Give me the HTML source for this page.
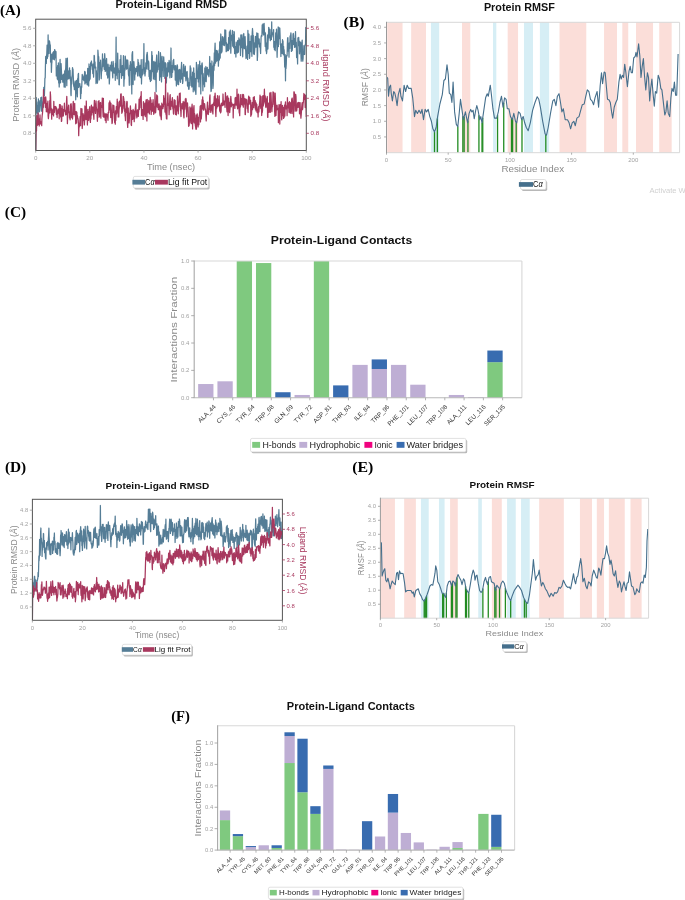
<!DOCTYPE html>
<html><head><meta charset="utf-8"><style>
html,body{margin:0;padding:0;background:#fff;width:685px;height:900px;overflow:hidden}
svg{display:block;will-change:transform;filter:blur(0.4px)}
</style></head><body>
<svg width="685" height="900" viewBox="0 0 685 900">
<rect width="685" height="900" fill="#fff"/>
<clipPath id="pac"><rect x="35.7" y="19.2" width="270.6" height="131.3"/></clipPath>
<g clip-path="url(#pac)">
<polyline points="35.7,150.8 36.0,99.1 36.2,97.6 36.5,109.3 36.8,111.9 37.1,113.2 37.3,105.7 37.6,109.0 37.9,101.9 38.1,118.4 38.4,98.9 38.7,104.8 38.9,101.9 39.2,107.0 39.5,111.6 39.8,105.9 40.0,100.6 40.3,105.3 40.6,105.4 40.8,97.6 41.1,105.4 41.4,111.0 41.7,97.1 41.9,100.8 42.2,111.5 42.5,107.0 42.7,102.4 43.0,105.0 43.3,107.6 43.5,97.8 43.8,87.3 44.1,92.0 44.4,95.8 44.6,89.0 44.9,78.2 45.2,77.9 45.4,67.5 45.7,56.4 46.0,58.8 46.3,63.5 46.5,56.7 46.8,53.5 47.1,45.1 47.3,58.5 47.6,56.5 47.9,56.4 48.1,34.9 48.4,53.2 48.7,45.5 49.0,53.5 49.2,40.8 49.5,41.1 49.8,43.1 50.0,46.1 50.3,44.8 50.6,62.1 50.9,55.2 51.1,54.0 51.4,72.3 51.7,63.7 51.9,62.7 52.2,54.1 52.5,59.0 52.7,57.5 53.0,52.4 53.3,59.2 53.6,51.7 53.8,54.6 54.1,52.0 54.4,59.8 54.6,49.7 54.9,50.0 55.2,57.9 55.5,56.7 55.7,54.2 56.0,51.5 56.3,75.9 56.5,67.9 56.8,67.8 57.1,71.4 57.3,79.0 57.6,65.7 57.9,79.8 58.2,71.5 58.4,62.9 58.7,82.9 59.0,80.3 59.2,87.0 59.5,77.6 59.8,65.1 60.1,59.4 60.3,82.8 60.6,82.5 60.9,72.8 61.1,63.7 61.4,69.7 61.7,79.3 61.9,75.1 62.2,75.7 62.5,77.5 62.8,82.2 63.0,75.6 63.3,74.1 63.6,76.0 63.8,77.4 64.1,87.0 64.4,84.3 64.7,70.9 64.9,76.3 65.2,87.2 65.5,68.9 65.7,69.1 66.0,58.3 66.3,67.9 66.5,76.5 66.8,85.7 67.1,68.3 67.4,58.1 67.6,73.6 67.9,79.1 68.2,70.8 68.4,78.8 68.7,77.8 69.0,78.4 69.3,75.0 69.5,67.9 69.8,74.5 70.1,70.4 70.3,79.9 70.6,76.9 70.9,94.3 71.1,95.6 71.4,79.2 71.7,84.1 72.0,76.5 72.2,74.7 72.5,67.7 72.8,69.8 73.0,69.2 73.3,77.0 73.6,84.8 73.9,86.6 74.1,85.4 74.4,89.7 74.7,86.8 74.9,82.9 75.2,81.0 75.5,85.3 75.7,99.8 76.0,92.0 76.3,87.8 76.6,80.4 76.8,82.2 77.1,91.7 77.4,96.8 77.6,78.6 77.9,81.0 78.2,74.4 78.5,73.3 78.7,87.5 79.0,85.6 79.3,84.1 79.5,84.1 79.8,83.6 80.1,86.3 80.3,86.8 80.6,98.6 80.9,91.6 81.2,93.5 81.4,86.7 81.7,87.5 82.0,79.9 82.2,74.4 82.5,76.5 82.8,76.5 83.1,77.0 83.3,79.7 83.6,78.3 83.9,80.7 84.1,75.2 84.4,76.5 84.7,71.3 84.9,83.9 85.2,71.8 85.5,79.7 85.8,82.8 86.0,79.8 86.3,81.7 86.6,75.0 86.8,79.8 87.1,84.5 87.4,84.9 87.7,68.3 87.9,71.3 88.2,81.1 88.5,75.1 88.7,86.1 89.0,64.0 89.3,80.8 89.5,71.3 89.8,66.8 90.1,79.1 90.4,71.2 90.6,62.8 90.9,63.5 91.2,65.7 91.4,61.0 91.7,64.7 92.0,64.9 92.3,69.5 92.5,64.8 92.8,73.6 93.1,64.0 93.3,70.4 93.6,77.1 93.9,68.7 94.1,55.4 94.4,55.8 94.7,67.8 95.0,61.9 95.2,68.0 95.5,68.1 95.8,67.0 96.0,83.6 96.3,70.6 96.6,75.4 96.9,75.1 97.1,81.1 97.4,83.2 97.7,80.4 97.9,50.2 98.2,54.6 98.5,62.4 98.7,56.7 99.0,65.2 99.3,79.9 99.6,68.7 99.8,62.7 100.1,67.0 100.4,63.6 100.6,60.2 100.9,70.4 101.2,78.6 101.5,72.1 101.7,69.3 102.0,70.8 102.3,62.0 102.5,53.8 102.8,66.6 103.1,63.0 103.4,60.3 103.6,61.3 103.9,58.8 104.2,69.3 104.4,64.1 104.7,53.7 105.0,58.4 105.2,71.4 105.5,66.6 105.8,60.3 106.1,62.7 106.3,70.8 106.6,58.5 106.9,74.9 107.1,66.6 107.4,68.5 107.7,78.1 108.0,64.2 108.2,65.2 108.5,76.9 108.8,67.3 109.0,72.1 109.3,83.9 109.6,78.5 109.8,69.7 110.1,65.0 110.4,66.8 110.7,69.3 110.9,66.5 111.2,71.0 111.5,61.9 111.7,67.2 112.0,67.3 112.3,65.6 112.6,76.4 112.8,77.8 113.1,61.3 113.4,64.3 113.6,71.5 113.9,68.2 114.2,73.2 114.4,68.5 114.7,72.6 115.0,67.7 115.3,80.3 115.5,63.1 115.8,70.8 116.1,37.1 116.3,75.2 116.6,75.0 116.9,70.9 117.2,78.8 117.4,70.2 117.7,53.2 118.0,71.1 118.2,68.3 118.5,72.4 118.8,70.6 119.0,84.7 119.3,84.8 119.6,72.6 119.9,71.4 120.1,59.7 120.4,72.4 120.7,70.6 120.9,55.4 121.2,70.2 121.5,78.3 121.8,75.0 122.0,72.5 122.3,65.6 122.6,68.4 122.8,75.3 123.1,71.0 123.4,55.7 123.6,55.9 123.9,86.2 124.2,76.1 124.5,79.1 124.7,68.3 125.0,70.3 125.3,56.2 125.5,58.9 125.8,59.5 126.1,64.9 126.4,69.2 126.6,67.2 126.9,60.2 127.2,63.6 127.4,68.7 127.7,60.0 128.0,65.0 128.2,68.4 128.5,74.9 128.8,76.1 129.1,76.5 129.3,85.3 129.6,69.6 129.9,65.2 130.1,70.3 130.4,61.7 130.7,64.3 131.0,65.1 131.2,85.0 131.5,76.4 131.8,93.9 132.0,55.2 132.3,52.5 132.6,51.7 132.8,70.2 133.1,84.6 133.4,70.3 133.7,69.1 133.9,61.7 134.2,67.0 134.5,67.4 134.7,80.1 135.0,70.6 135.3,74.1 135.6,70.1 135.8,68.3 136.1,71.6 136.4,69.0 136.6,71.0 136.9,66.6 137.2,66.5 137.4,73.7 137.7,76.0 138.0,59.5 138.3,67.9 138.5,62.3 138.8,64.6 139.1,71.9 139.3,75.9 139.6,71.3 139.9,68.2 140.2,65.4 140.4,77.6 140.7,77.6 141.0,73.8 141.2,59.6 141.5,83.9 141.8,72.3 142.0,75.9 142.3,69.5 142.6,74.6 142.9,69.8 143.1,59.5 143.4,64.5 143.7,65.3 143.9,43.6 144.2,73.7 144.5,67.6 144.8,71.3 145.0,75.9 145.3,72.3 145.6,71.5 145.8,63.0 146.1,65.2 146.4,68.9 146.6,55.9 146.9,54.5 147.2,52.4 147.5,56.3 147.7,62.6 148.0,69.2 148.3,69.6 148.5,61.0 148.8,62.9 149.1,76.4 149.4,70.3 149.6,79.1 149.9,70.7 150.2,78.5 150.4,81.5 150.7,71.6 151.0,69.9 151.2,80.5 151.5,67.6 151.8,51.6 152.1,71.7 152.3,55.3 152.6,67.3 152.9,71.1 153.1,70.1 153.4,79.0 153.7,61.9 154.0,61.3 154.2,69.8 154.5,70.6 154.8,79.6 155.0,73.7 155.3,62.2 155.6,77.4 155.8,74.7 156.1,91.7 156.4,60.4 156.7,55.0 156.9,66.8 157.2,72.0 157.5,65.8 157.7,69.1 158.0,69.8 158.3,59.5 158.6,51.5 158.8,59.9 159.1,66.7 159.4,63.3 159.6,80.3 159.9,71.7 160.2,77.0 160.4,52.7 160.7,56.6 161.0,60.8 161.3,65.7 161.5,81.9 161.8,67.9 162.1,56.4 162.3,70.2 162.6,64.3 162.9,61.4 163.2,76.4 163.4,64.1 163.7,56.9 164.0,62.9 164.2,67.1 164.5,62.7 164.8,78.3 165.0,72.3 165.3,62.7 165.6,76.1 165.9,63.6 166.1,69.4 166.4,82.9 166.7,72.9 166.9,75.8 167.2,67.9 167.5,76.1 167.8,62.6 168.0,71.3 168.3,66.3 168.6,71.6 168.8,71.9 169.1,60.4 169.4,63.9 169.6,69.5 169.9,77.8 170.2,62.7 170.5,61.8 170.7,68.9 171.0,48.0 171.3,75.0 171.5,77.4 171.8,76.9 172.1,67.4 172.4,65.3 172.6,72.3 172.9,63.4 173.2,60.3 173.4,63.9 173.7,59.3 174.0,67.7 174.2,69.8 174.5,66.3 174.8,69.5 175.1,65.6 175.3,80.1 175.6,65.9 175.9,77.4 176.1,77.7 176.4,85.9 176.7,74.2 177.0,65.5 177.2,64.8 177.5,66.2 177.8,84.1 178.0,84.4 178.3,82.5 178.6,84.7 178.8,69.8 179.1,71.7 179.4,72.6 179.7,69.4 179.9,78.6 180.2,81.1 180.5,82.3 180.7,72.8 181.0,70.2 181.3,67.2 181.6,62.4 181.8,79.1 182.1,79.2 182.4,74.2 182.6,83.5 182.9,81.7 183.2,69.5 183.4,65.9 183.7,64.5 184.0,71.5 184.3,76.3 184.5,68.5 184.8,75.8 185.1,73.9 185.3,66.2 185.6,76.2 185.9,80.8 186.2,78.0 186.4,72.2 186.7,71.9 187.0,73.0 187.2,71.5 187.5,85.9 187.8,86.2 188.0,78.2 188.3,84.3 188.6,88.7 188.9,89.4 189.1,88.3 189.4,82.3 189.7,85.7 189.9,78.1 190.2,65.8 190.5,75.2 190.8,67.9 191.0,73.5 191.3,85.4 191.6,82.8 191.8,87.0 192.1,76.7 192.4,86.5 192.6,72.2 192.9,72.7 193.2,91.8 193.5,77.2 193.7,67.9 194.0,82.3 194.3,73.1 194.5,89.9 194.8,80.7 195.1,91.2 195.4,78.5 195.6,91.8 195.9,94.4 196.2,83.0 196.4,62.3 196.7,76.6 197.0,71.1 197.2,74.2 197.5,78.6 197.8,73.7 198.1,64.7 198.3,81.9 198.6,75.3 198.9,74.3 199.1,86.8 199.4,68.6 199.7,61.1 200.0,78.5 200.2,65.3 200.5,72.9 200.8,93.9 201.0,66.1 201.3,72.0 201.6,73.9 201.8,64.1 202.1,62.8 202.4,66.3 202.7,83.9 202.9,90.8 203.2,73.5 203.5,82.8 203.7,77.9 204.0,84.1 204.3,80.2 204.6,86.8 204.8,68.0 205.1,81.3 205.4,77.8 205.6,77.1 205.9,66.5 206.2,81.7 206.4,75.2 206.7,74.8 207.0,69.5 207.3,67.3 207.5,73.7 207.8,70.1 208.1,75.0 208.3,69.5 208.6,71.9 208.9,76.7 209.2,74.4 209.4,70.9 209.7,56.5 210.0,70.9 210.2,70.3 210.5,63.4 210.8,87.2 211.0,91.5 211.3,90.5 211.6,81.9 211.9,61.0 212.1,68.9 212.4,65.9 212.7,72.6 212.9,88.5 213.2,85.3 213.5,67.2 213.8,62.6 214.0,70.2 214.3,53.0 214.6,65.7 214.8,50.2 215.1,43.1 215.4,56.6 215.6,63.1 215.9,50.8 216.2,61.3 216.5,50.4 216.7,61.2 217.0,50.7 217.3,51.1 217.5,55.0 217.8,60.4 218.1,53.8 218.4,66.2 218.6,59.9 218.9,58.7 219.2,49.8 219.4,60.0 219.7,41.8 220.0,50.0 220.2,58.1 220.5,41.9 220.8,34.0 221.1,43.4 221.3,52.9 221.6,48.6 221.9,51.9 222.1,49.9 222.4,36.6 222.7,40.0 223.0,42.1 223.2,42.2 223.5,45.0 223.8,39.9 224.0,37.2 224.3,45.6 224.6,45.2 224.8,29.8 225.1,37.1 225.4,43.1 225.7,30.1 225.9,39.8 226.2,51.7 226.5,42.5 226.7,50.4 227.0,50.8 227.3,44.1 227.6,45.0 227.8,50.6 228.1,50.5 228.4,50.5 228.6,37.7 228.9,46.8 229.2,49.1 229.4,32.0 229.7,43.4 230.0,33.2 230.3,30.2 230.5,39.7 230.8,53.2 231.1,43.6 231.3,38.8 231.6,35.1 231.9,40.1 232.2,33.8 232.4,30.5 232.7,46.2 233.0,34.4 233.2,39.0 233.5,46.8 233.8,47.9 234.0,31.4 234.3,32.5 234.6,53.6 234.9,47.4 235.1,47.4 235.4,46.7 235.7,49.5 235.9,57.1 236.2,42.2 236.5,50.6 236.8,50.3 237.0,51.6 237.3,53.0 237.6,40.9 237.8,40.5 238.1,47.8 238.4,52.2 238.6,49.0 238.9,37.9 239.2,39.5 239.5,39.8 239.7,44.7 240.0,45.0 240.3,42.2 240.5,55.6 240.8,35.0 241.1,44.8 241.4,47.6 241.6,34.9 241.9,38.0 242.2,40.8 242.4,47.4 242.7,56.8 243.0,45.5 243.3,34.4 243.5,46.6 243.8,33.5 244.1,46.9 244.3,48.7 244.6,40.9 244.9,41.4 245.1,36.7 245.4,45.4 245.7,51.3 246.0,58.5 246.2,56.3 246.5,54.1 246.8,57.6 247.0,46.2 247.3,49.5 247.6,59.4 247.9,30.4 248.1,44.9 248.4,53.3 248.7,37.6 248.9,34.0 249.2,50.0 249.5,58.3 249.7,57.2 250.0,41.6 250.3,46.3 250.6,51.6 250.8,47.6 251.1,35.8 251.4,51.1 251.6,49.6 251.9,56.3 252.2,33.4 252.5,28.5 252.7,31.3 253.0,38.9 253.3,35.4 253.5,53.8 253.8,42.5 254.1,50.9 254.3,54.5 254.6,50.9 254.9,47.0 255.2,39.9 255.4,36.4 255.7,37.8 256.0,47.2 256.2,38.8 256.5,41.9 256.8,32.8 257.1,46.8 257.3,60.4 257.6,55.4 257.9,33.3 258.1,37.8 258.4,43.9 258.7,38.7 258.9,38.8 259.2,39.1 259.5,46.9 259.8,45.4 260.0,43.3 260.3,48.2 260.6,53.5 260.8,46.4 261.1,37.0 261.4,35.5 261.7,36.2 261.9,36.2 262.2,25.0 262.5,31.8 262.7,29.2 263.0,24.0 263.3,33.7 263.5,34.9 263.8,29.9 264.1,23.3 264.4,30.5 264.6,33.1 264.9,35.9 265.2,46.5 265.4,32.9 265.7,38.5 266.0,51.0 266.3,44.0 266.5,53.6 266.8,51.6 267.1,42.7 267.3,47.5 267.6,35.0 267.9,49.0 268.1,41.4 268.4,37.0 268.7,27.3 269.0,28.1 269.2,33.4 269.5,36.6 269.8,38.0 270.0,29.4 270.3,40.6 270.6,35.4 270.9,38.3 271.1,36.0 271.4,39.5 271.7,21.8 271.9,36.8 272.2,35.1 272.5,34.5 272.7,33.0 273.0,33.3 273.3,33.7 273.6,29.6 273.8,47.3 274.1,42.6 274.4,49.4 274.6,41.5 274.9,49.3 275.2,50.7 275.5,44.3 275.7,32.9 276.0,34.4 276.3,36.8 276.5,29.1 276.8,43.5 277.1,57.3 277.3,50.2 277.6,47.0 277.9,35.8 278.2,27.0 278.4,46.5 278.7,27.4 279.0,28.4 279.2,33.7 279.5,38.5 279.8,28.0 280.1,35.7 280.3,44.4 280.6,44.2 280.9,56.5 281.1,47.3 281.4,47.4 281.7,45.4 281.9,43.3 282.2,53.4 282.5,39.7 282.8,51.5 283.0,40.8 283.3,54.8 283.6,46.4 283.8,53.0 284.1,49.7 284.4,55.2 284.7,67.1 284.9,64.5 285.2,54.7 285.5,80.8 285.7,60.8 286.0,68.5 286.3,63.4 286.5,55.8 286.8,55.2 287.1,55.9 287.4,43.6 287.6,38.0 287.9,37.7 288.2,51.1 288.4,47.0 288.7,48.1 289.0,57.2 289.3,43.0 289.5,43.8 289.8,48.5 290.1,35.8 290.3,36.3 290.6,35.6 290.9,32.8 291.1,35.6 291.4,51.4 291.7,50.9 292.0,40.6 292.2,50.4 292.5,47.1 292.8,42.6 293.0,34.7 293.3,33.3 293.6,35.7 293.9,44.5 294.1,39.1 294.4,40.9 294.7,47.4 294.9,38.3 295.2,41.1 295.5,31.6 295.7,39.7 296.0,47.0 296.3,42.2 296.6,57.6 296.8,51.6 297.1,55.4 297.4,58.1 297.6,63.9 297.9,37.9 298.2,45.6 298.5,45.0 298.7,37.4 299.0,43.8 299.3,41.1 299.5,53.8 299.8,46.2 300.1,48.3 300.3,42.0 300.6,42.7 300.9,54.1 301.2,61.1 301.4,57.1 301.7,44.1 302.0,41.6 302.2,40.1 302.5,57.7 302.8,61.2 303.1,58.5 303.3,52.8 303.6,52.7 303.9,45.7 304.1,46.3 304.4,54.5 304.7,54.2 304.9,46.3 305.2,44.6 305.5,45.0 305.8,27.5 306.0,39.6 306.3,41.6" fill="none" stroke="#557d96" stroke-width="1.25" stroke-linejoin="round"/>
<polyline points="35.7,150.8 36.0,132.2 36.2,123.2 36.5,130.9 36.8,115.6 37.1,117.4 37.3,125.5 37.6,123.0 37.9,116.6 38.1,113.0 38.4,124.3 38.7,119.5 38.9,120.7 39.2,126.0 39.5,118.7 39.8,119.0 40.0,114.9 40.3,124.1 40.6,123.4 40.8,121.7 41.1,122.1 41.4,122.1 41.7,125.7 41.9,119.2 42.2,115.3 42.5,113.2 42.7,110.4 43.0,103.4 43.3,106.6 43.5,89.6 43.8,100.0 44.1,101.4 44.4,103.1 44.6,98.3 44.9,97.6 45.2,103.0 45.4,107.3 45.7,96.8 46.0,100.9 46.3,111.8 46.5,109.1 46.8,108.0 47.1,103.3 47.3,107.1 47.6,112.0 47.9,101.1 48.1,115.9 48.4,118.6 48.7,114.9 49.0,112.8 49.2,110.0 49.5,107.1 49.8,100.5 50.0,112.8 50.3,91.9 50.6,96.3 50.9,106.7 51.1,109.7 51.4,110.7 51.7,119.2 51.9,108.9 52.2,114.4 52.5,112.5 52.7,114.5 53.0,112.8 53.3,109.5 53.6,115.9 53.8,101.3 54.1,111.6 54.4,112.4 54.6,110.6 54.9,106.7 55.2,107.2 55.5,108.2 55.7,106.5 56.0,107.0 56.3,114.3 56.5,107.8 56.8,112.9 57.1,117.5 57.3,112.7 57.6,113.9 57.9,110.5 58.2,109.0 58.4,113.0 58.7,109.4 59.0,109.7 59.2,118.8 59.5,104.5 59.8,108.7 60.1,109.6 60.3,104.7 60.6,116.3 60.9,117.2 61.1,108.5 61.4,121.4 61.7,120.9 61.9,105.8 62.2,106.5 62.5,116.1 62.8,113.5 63.0,109.4 63.3,116.0 63.6,113.1 63.8,110.5 64.1,111.5 64.4,103.2 64.7,108.7 64.9,111.2 65.2,110.1 65.5,112.6 65.7,114.9 66.0,112.6 66.3,114.4 66.5,101.2 66.8,96.4 67.1,106.6 67.4,123.7 67.6,117.5 67.9,108.3 68.2,112.8 68.4,107.2 68.7,105.2 69.0,112.4 69.3,111.9 69.5,117.9 69.8,116.3 70.1,119.8 70.3,117.5 70.6,104.1 70.9,109.8 71.1,103.7 71.4,106.7 71.7,117.6 72.0,113.1 72.2,114.3 72.5,119.0 72.8,115.7 73.0,104.9 73.3,101.4 73.6,109.1 73.9,114.4 74.1,111.6 74.4,109.7 74.7,103.3 74.9,111.4 75.2,116.0 75.5,112.0 75.7,123.8 76.0,117.2 76.3,111.5 76.6,123.0 76.8,112.1 77.1,116.7 77.4,115.5 77.6,117.4 77.9,118.5 78.2,119.8 78.5,124.6 78.7,135.7 79.0,125.5 79.3,127.0 79.5,123.4 79.8,122.6 80.1,116.7 80.3,121.9 80.6,125.7 80.9,108.5 81.2,108.8 81.4,112.3 81.7,111.3 82.0,108.9 82.2,128.5 82.5,125.1 82.8,119.4 83.1,113.7 83.3,118.1 83.6,114.9 83.9,120.4 84.1,117.1 84.4,124.9 84.7,119.2 84.9,106.0 85.2,116.4 85.5,109.9 85.8,118.3 86.0,119.6 86.3,101.0 86.6,113.5 86.8,113.0 87.1,114.6 87.4,125.0 87.7,117.9 87.9,109.3 88.2,118.2 88.5,120.4 88.7,119.2 89.0,111.5 89.3,117.0 89.5,108.6 89.8,106.6 90.1,120.4 90.4,122.4 90.6,115.5 90.9,119.0 91.2,110.6 91.4,105.2 91.7,114.9 92.0,108.1 92.3,107.4 92.5,110.9 92.8,106.9 93.1,112.7 93.3,110.9 93.6,115.8 93.9,119.3 94.1,106.5 94.4,100.4 94.7,106.8 95.0,103.7 95.2,109.4 95.5,113.4 95.8,107.7 96.0,100.9 96.3,107.5 96.6,108.9 96.9,109.2 97.1,114.7 97.4,121.3 97.7,112.4 97.9,117.4 98.2,101.5 98.5,103.9 98.7,102.7 99.0,100.6 99.3,113.1 99.6,116.9 99.8,103.2 100.1,103.6 100.4,105.4 100.6,102.5 100.9,118.2 101.2,105.6 101.5,107.6 101.7,106.1 102.0,104.4 102.3,98.0 102.5,103.1 102.8,109.4 103.1,116.4 103.4,98.4 103.6,117.1 103.9,114.1 104.2,113.1 104.4,117.2 104.7,117.2 105.0,114.6 105.2,120.3 105.5,117.4 105.8,113.7 106.1,122.7 106.3,116.9 106.6,114.1 106.9,114.3 107.1,114.5 107.4,114.8 107.7,117.7 108.0,120.3 108.2,112.5 108.5,112.8 108.8,112.7 109.0,103.4 109.3,102.4 109.6,109.8 109.8,100.9 110.1,107.3 110.4,102.7 110.7,117.6 110.9,103.2 111.2,107.7 111.5,113.1 111.7,115.4 112.0,123.6 112.3,122.7 112.6,119.0 112.8,105.0 113.1,109.3 113.4,112.5 113.6,105.3 113.9,105.8 114.2,112.7 114.4,115.7 114.7,122.7 115.0,115.8 115.3,124.2 115.5,110.8 115.8,120.5 116.1,113.5 116.3,106.6 116.6,113.9 116.9,112.2 117.2,99.1 117.4,108.9 117.7,103.0 118.0,102.0 118.2,117.0 118.5,111.0 118.8,116.9 119.0,110.1 119.3,107.7 119.6,101.1 119.9,106.0 120.1,106.5 120.4,105.0 120.7,94.1 120.9,100.0 121.2,93.9 121.5,105.6 121.8,113.3 122.0,105.7 122.3,112.1 122.6,108.0 122.8,108.7 123.1,96.4 123.4,96.6 123.6,97.7 123.9,99.5 124.2,107.3 124.5,111.3 124.7,101.6 125.0,115.3 125.3,117.3 125.5,120.6 125.8,108.9 126.1,112.7 126.4,108.1 126.6,104.1 126.9,101.4 127.2,101.8 127.4,122.7 127.7,127.4 128.0,120.0 128.2,108.0 128.5,116.5 128.8,116.6 129.1,122.9 129.3,120.2 129.6,113.0 129.9,113.0 130.1,110.8 130.4,105.9 130.7,110.5 131.0,115.5 131.2,125.0 131.5,125.5 131.8,110.5 132.0,119.4 132.3,117.6 132.6,119.4 132.8,114.8 133.1,109.4 133.4,115.3 133.7,118.6 133.9,110.9 134.2,121.7 134.5,114.7 134.7,118.5 135.0,115.6 135.3,108.7 135.6,105.6 135.8,103.8 136.1,111.8 136.4,112.1 136.6,115.7 136.9,117.8 137.2,114.4 137.4,110.0 137.7,109.8 138.0,111.1 138.3,116.4 138.5,112.1 138.8,108.8 139.1,99.2 139.3,109.5 139.6,104.8 139.9,107.7 140.2,97.4 140.4,98.6 140.7,96.1 141.0,99.9 141.2,91.7 141.5,115.4 141.8,111.8 142.0,115.7 142.3,109.6 142.6,113.1 142.9,111.5 143.1,119.4 143.4,101.7 143.7,112.9 143.9,110.7 144.2,115.0 144.5,110.3 144.8,103.2 145.0,103.5 145.3,116.6 145.6,109.6 145.8,103.4 146.1,99.8 146.4,109.1 146.6,112.4 146.9,120.9 147.2,99.4 147.5,106.2 147.7,110.0 148.0,112.6 148.3,108.4 148.5,104.0 148.8,100.5 149.1,107.2 149.4,113.9 149.6,104.7 149.9,110.1 150.2,97.4 150.4,100.6 150.7,108.2 151.0,99.8 151.2,114.5 151.5,108.8 151.8,106.1 152.1,103.4 152.3,111.3 152.6,107.1 152.9,103.2 153.1,99.6 153.4,105.1 153.7,114.3 154.0,106.6 154.2,113.1 154.5,108.3 154.8,107.2 155.0,92.5 155.3,101.8 155.6,112.8 155.8,110.8 156.1,103.0 156.4,107.0 156.7,94.8 156.9,101.0 157.2,96.7 157.5,95.9 157.7,107.4 158.0,103.8 158.3,109.7 158.6,104.7 158.8,107.8 159.1,103.9 159.4,109.9 159.6,108.4 159.9,114.1 160.2,115.8 160.4,105.8 160.7,111.3 161.0,117.4 161.3,119.7 161.5,113.8 161.8,103.1 162.1,107.3 162.3,104.4 162.6,108.2 162.9,108.8 163.2,106.1 163.4,106.8 163.7,95.6 164.0,100.3 164.2,98.1 164.5,103.9 164.8,104.8 165.0,112.1 165.3,109.6 165.6,77.5 165.9,114.2 166.1,110.0 166.4,118.6 166.7,118.6 166.9,119.1 167.2,104.5 167.5,102.3 167.8,92.9 168.0,95.8 168.3,105.5 168.6,103.5 168.8,105.6 169.1,114.7 169.4,107.4 169.6,103.4 169.9,95.9 170.2,94.6 170.5,107.4 170.7,109.7 171.0,102.3 171.3,101.5 171.5,105.4 171.8,106.0 172.1,99.8 172.4,97.7 172.6,105.8 172.9,108.9 173.2,108.2 173.4,113.2 173.7,114.2 174.0,101.9 174.2,99.7 174.5,106.8 174.8,107.5 175.1,100.3 175.3,109.7 175.6,114.5 175.9,106.3 176.1,105.8 176.4,114.9 176.7,108.0 177.0,111.0 177.2,109.2 177.5,96.2 177.8,101.9 178.0,107.4 178.3,113.8 178.6,104.7 178.8,106.7 179.1,101.6 179.4,93.6 179.7,95.7 179.9,94.6 180.2,93.0 180.5,110.4 180.7,109.9 181.0,116.5 181.3,106.4 181.6,108.1 181.8,103.7 182.1,104.1 182.4,107.9 182.6,109.0 182.9,103.7 183.2,101.3 183.4,107.8 183.7,116.2 184.0,117.8 184.3,107.3 184.5,102.2 184.8,109.2 185.1,105.7 185.3,99.0 185.6,101.6 185.9,98.3 186.2,99.9 186.4,109.6 186.7,116.8 187.0,108.3 187.2,108.6 187.5,102.8 187.8,108.7 188.0,107.3 188.3,114.4 188.6,126.3 188.9,119.1 189.1,125.8 189.4,121.8 189.7,120.0 189.9,106.9 190.2,115.9 190.5,109.4 190.8,122.8 191.0,108.2 191.3,123.7 191.6,122.1 191.8,107.9 192.1,104.2 192.4,109.9 192.6,128.9 192.9,111.4 193.2,121.9 193.5,116.2 193.7,108.0 194.0,105.6 194.3,122.9 194.5,113.3 194.8,117.5 195.1,122.6 195.4,126.0 195.6,126.5 195.9,129.2 196.2,115.0 196.4,129.2 196.7,124.3 197.0,125.0 197.2,113.8 197.5,119.8 197.8,119.1 198.1,127.0 198.3,124.6 198.6,117.4 198.9,124.7 199.1,115.9 199.4,115.8 199.7,112.3 200.0,110.1 200.2,106.1 200.5,121.9 200.8,105.3 201.0,114.1 201.3,118.9 201.6,114.0 201.8,108.3 202.1,99.7 202.4,108.9 202.7,96.8 202.9,104.5 203.2,100.2 203.5,110.1 203.7,106.2 204.0,107.8 204.3,103.7 204.6,103.8 204.8,105.6 205.1,109.9 205.4,108.8 205.6,110.4 205.9,116.3 206.2,120.9 206.4,115.4 206.7,114.4 207.0,110.3 207.3,104.8 207.5,102.1 207.8,113.5 208.1,112.3 208.3,114.5 208.6,108.6 208.9,112.2 209.2,105.9 209.4,104.4 209.7,97.1 210.0,94.8 210.2,109.6 210.5,109.2 210.8,112.4 211.0,110.8 211.3,105.7 211.6,105.1 211.9,109.9 212.1,104.4 212.4,110.8 212.7,112.0 212.9,113.9 213.2,105.9 213.5,102.9 213.8,103.0 214.0,102.1 214.3,96.3 214.6,105.6 214.8,99.6 215.1,93.1 215.4,98.9 215.6,111.5 215.9,116.5 216.2,107.2 216.5,98.8 216.7,108.2 217.0,105.9 217.3,101.6 217.5,95.6 217.8,106.5 218.1,99.5 218.4,102.9 218.6,105.6 218.9,101.3 219.2,95.8 219.4,103.4 219.7,111.2 220.0,104.9 220.2,110.5 220.5,112.8 220.8,112.4 221.1,111.0 221.3,103.3 221.6,103.4 221.9,104.8 222.1,103.0 222.4,105.7 222.7,104.7 223.0,94.0 223.2,99.4 223.5,105.0 223.8,104.3 224.0,101.1 224.3,101.2 224.6,104.0 224.8,104.6 225.1,107.4 225.4,92.7 225.7,96.2 225.9,95.9 226.2,101.7 226.5,99.4 226.7,107.6 227.0,111.8 227.3,96.6 227.6,95.9 227.8,103.0 228.1,115.6 228.4,103.7 228.6,98.2 228.9,105.6 229.2,102.2 229.4,111.6 229.7,112.6 230.0,108.9 230.3,104.2 230.5,102.4 230.8,96.4 231.1,99.8 231.3,106.8 231.6,102.7 231.9,104.1 232.2,105.0 232.4,104.2 232.7,105.0 233.0,104.6 233.2,117.9 233.5,104.4 233.8,104.4 234.0,105.1 234.3,104.6 234.6,103.8 234.9,108.4 235.1,97.8 235.4,102.0 235.7,97.4 235.9,103.6 236.2,105.1 236.5,103.4 236.8,100.4 237.0,89.2 237.3,106.2 237.6,108.8 237.8,105.4 238.1,105.9 238.4,94.2 238.6,100.9 238.9,107.6 239.2,113.0 239.5,109.9 239.7,115.7 240.0,105.8 240.3,94.6 240.5,106.9 240.8,101.6 241.1,98.5 241.4,101.6 241.6,104.6 241.9,101.1 242.2,94.3 242.4,101.5 242.7,105.2 243.0,105.0 243.3,107.2 243.5,94.5 243.8,97.6 244.1,101.9 244.3,100.5 244.6,104.1 244.9,98.6 245.1,114.6 245.4,114.6 245.7,102.2 246.0,99.1 246.2,101.0 246.5,102.5 246.8,99.9 247.0,104.7 247.3,108.7 247.6,104.4 247.9,111.4 248.1,112.5 248.4,99.6 248.7,96.1 248.9,99.1 249.2,104.2 249.5,97.7 249.7,97.3 250.0,102.8 250.3,102.6 250.6,100.4 250.8,116.3 251.1,110.4 251.4,115.0 251.6,113.6 251.9,105.6 252.2,102.5 252.5,109.7 252.7,105.7 253.0,105.6 253.3,97.4 253.5,100.4 253.8,107.6 254.1,103.5 254.3,96.7 254.6,103.4 254.9,104.8 255.2,100.7 255.4,109.2 255.7,102.1 256.0,110.9 256.2,103.2 256.5,106.1 256.8,104.3 257.1,112.6 257.3,109.0 257.6,109.6 257.9,111.3 258.1,116.9 258.4,107.4 258.7,106.5 258.9,112.0 259.2,107.8 259.5,103.6 259.8,100.5 260.0,95.1 260.3,102.8 260.6,106.9 260.8,108.5 261.1,96.5 261.4,106.4 261.7,115.5 261.9,112.8 262.2,112.7 262.5,111.0 262.7,95.9 263.0,95.7 263.3,106.0 263.5,99.6 263.8,103.9 264.1,98.4 264.4,89.2 264.6,95.5 264.9,101.8 265.2,95.8 265.4,98.7 265.7,106.9 266.0,107.5 266.3,105.7 266.5,100.9 266.8,98.2 267.1,98.1 267.3,96.5 267.6,117.3 267.9,117.4 268.1,103.0 268.4,103.3 268.7,112.3 269.0,112.3 269.2,104.1 269.5,105.7 269.8,93.0 270.0,108.8 270.3,112.4 270.6,100.0 270.9,92.4 271.1,95.8 271.4,103.2 271.7,108.9 271.9,111.6 272.2,105.9 272.5,106.8 272.7,103.9 273.0,91.8 273.3,101.6 273.6,101.6 273.8,92.5 274.1,104.6 274.4,101.1 274.6,110.8 274.9,116.4 275.2,93.2 275.5,102.7 275.7,104.2 276.0,115.5 276.3,108.8 276.5,106.0 276.8,109.9 277.1,105.2 277.3,107.9 277.6,108.6 277.9,108.5 278.2,110.4 278.4,122.7 278.7,109.0 279.0,104.6 279.2,114.5 279.5,112.3 279.8,124.1 280.1,109.3 280.3,104.6 280.6,112.5 280.9,109.7 281.1,101.7 281.4,111.3 281.7,119.8 281.9,118.6 282.2,107.8 282.5,105.4 282.8,109.6 283.0,115.6 283.3,107.7 283.6,118.4 283.8,116.4 284.1,117.5 284.4,107.2 284.7,104.9 284.9,116.1 285.2,104.9 285.5,101.8 285.7,106.9 286.0,108.9 286.3,108.8 286.5,107.0 286.8,105.7 287.1,115.7 287.4,97.7 287.6,102.4 287.9,107.8 288.2,107.4 288.4,102.9 288.7,105.0 289.0,112.3 289.3,111.5 289.5,101.7 289.8,110.8 290.1,112.9 290.3,112.7 290.6,105.6 290.9,102.3 291.1,113.4 291.4,111.1 291.7,98.8 292.0,99.0 292.2,98.0 292.5,101.5 292.8,113.5 293.0,104.4 293.3,109.0 293.6,116.9 293.9,92.0 294.1,91.8 294.4,93.0 294.7,94.6 294.9,102.7 295.2,111.2 295.5,103.1 295.7,94.3 296.0,96.5 296.3,106.7 296.6,111.0 296.8,110.2 297.1,106.8 297.4,106.5 297.6,102.8 297.9,107.4 298.2,105.6 298.5,102.4 298.7,106.5 299.0,107.2 299.3,102.6 299.5,113.8 299.8,112.7 300.1,102.7 300.3,108.5 300.6,112.9 300.9,118.1 301.2,115.1 301.4,111.6 301.7,107.3 302.0,103.9 302.2,102.6 302.5,109.6 302.8,107.9 303.1,103.1 303.3,103.0 303.6,98.5 303.9,93.5 304.1,95.8 304.4,94.4 304.7,99.5 304.9,97.3 305.2,107.5 305.5,95.1 305.8,97.9 306.0,102.8 306.3,117.1" fill="none" stroke="#a8385e" stroke-width="1.25" stroke-linejoin="round"/>
</g>
<rect x="35.7" y="19.2" width="270.6" height="131.3" fill="none" stroke="#555555" stroke-width="1"/>
<line x1="33.10" y1="133.30" x2="35.70" y2="133.30" stroke="#999" stroke-width="0.8"/>
<text x="31.50" y="135.30" font-family="Liberation Sans" font-size="6.2" fill="#a2a2a2" text-anchor="end" font-weight="normal">0.8</text>
<line x1="33.10" y1="115.80" x2="35.70" y2="115.80" stroke="#999" stroke-width="0.8"/>
<text x="31.50" y="117.80" font-family="Liberation Sans" font-size="6.2" fill="#a2a2a2" text-anchor="end" font-weight="normal">1.6</text>
<line x1="33.10" y1="98.30" x2="35.70" y2="98.30" stroke="#999" stroke-width="0.8"/>
<text x="31.50" y="100.30" font-family="Liberation Sans" font-size="6.2" fill="#a2a2a2" text-anchor="end" font-weight="normal">2.4</text>
<line x1="33.10" y1="80.80" x2="35.70" y2="80.80" stroke="#999" stroke-width="0.8"/>
<text x="31.50" y="82.80" font-family="Liberation Sans" font-size="6.2" fill="#a2a2a2" text-anchor="end" font-weight="normal">3.2</text>
<line x1="33.10" y1="63.30" x2="35.70" y2="63.30" stroke="#999" stroke-width="0.8"/>
<text x="31.50" y="65.30" font-family="Liberation Sans" font-size="6.2" fill="#a2a2a2" text-anchor="end" font-weight="normal">4.0</text>
<line x1="33.10" y1="45.80" x2="35.70" y2="45.80" stroke="#999" stroke-width="0.8"/>
<text x="31.50" y="47.80" font-family="Liberation Sans" font-size="6.2" fill="#a2a2a2" text-anchor="end" font-weight="normal">4.8</text>
<line x1="33.10" y1="28.30" x2="35.70" y2="28.30" stroke="#999" stroke-width="0.8"/>
<text x="31.50" y="30.30" font-family="Liberation Sans" font-size="6.2" fill="#a2a2a2" text-anchor="end" font-weight="normal">5.6</text>
<line x1="306.30" y1="133.30" x2="308.90" y2="133.30" stroke="#a8385e" stroke-width="0.8"/>
<text x="310.50" y="135.30" font-family="Liberation Sans" font-size="6.2" fill="#a8385e" text-anchor="start" font-weight="normal">0.8</text>
<line x1="306.30" y1="115.80" x2="308.90" y2="115.80" stroke="#a8385e" stroke-width="0.8"/>
<text x="310.50" y="117.80" font-family="Liberation Sans" font-size="6.2" fill="#a8385e" text-anchor="start" font-weight="normal">1.6</text>
<line x1="306.30" y1="98.30" x2="308.90" y2="98.30" stroke="#a8385e" stroke-width="0.8"/>
<text x="310.50" y="100.30" font-family="Liberation Sans" font-size="6.2" fill="#a8385e" text-anchor="start" font-weight="normal">2.4</text>
<line x1="306.30" y1="80.80" x2="308.90" y2="80.80" stroke="#a8385e" stroke-width="0.8"/>
<text x="310.50" y="82.80" font-family="Liberation Sans" font-size="6.2" fill="#a8385e" text-anchor="start" font-weight="normal">3.2</text>
<line x1="306.30" y1="63.30" x2="308.90" y2="63.30" stroke="#a8385e" stroke-width="0.8"/>
<text x="310.50" y="65.30" font-family="Liberation Sans" font-size="6.2" fill="#a8385e" text-anchor="start" font-weight="normal">4.0</text>
<line x1="306.30" y1="45.80" x2="308.90" y2="45.80" stroke="#a8385e" stroke-width="0.8"/>
<text x="310.50" y="47.80" font-family="Liberation Sans" font-size="6.2" fill="#a8385e" text-anchor="start" font-weight="normal">4.8</text>
<line x1="306.30" y1="28.30" x2="308.90" y2="28.30" stroke="#a8385e" stroke-width="0.8"/>
<text x="310.50" y="30.30" font-family="Liberation Sans" font-size="6.2" fill="#a8385e" text-anchor="start" font-weight="normal">5.6</text>
<line x1="35.70" y1="150.50" x2="35.70" y2="152.70" stroke="#999" stroke-width="0.8"/>
<text x="35.70" y="159.90" font-family="Liberation Sans" font-size="6.2" fill="#a2a2a2" text-anchor="middle" font-weight="normal">0</text>
<line x1="89.82" y1="150.50" x2="89.82" y2="152.70" stroke="#999" stroke-width="0.8"/>
<text x="89.82" y="159.90" font-family="Liberation Sans" font-size="6.2" fill="#a2a2a2" text-anchor="middle" font-weight="normal">20</text>
<line x1="143.94" y1="150.50" x2="143.94" y2="152.70" stroke="#999" stroke-width="0.8"/>
<text x="143.94" y="159.90" font-family="Liberation Sans" font-size="6.2" fill="#a2a2a2" text-anchor="middle" font-weight="normal">40</text>
<line x1="198.06" y1="150.50" x2="198.06" y2="152.70" stroke="#999" stroke-width="0.8"/>
<text x="198.06" y="159.90" font-family="Liberation Sans" font-size="6.2" fill="#a2a2a2" text-anchor="middle" font-weight="normal">60</text>
<line x1="252.18" y1="150.50" x2="252.18" y2="152.70" stroke="#999" stroke-width="0.8"/>
<text x="252.18" y="159.90" font-family="Liberation Sans" font-size="6.2" fill="#a2a2a2" text-anchor="middle" font-weight="normal">80</text>
<line x1="306.30" y1="150.50" x2="306.30" y2="152.70" stroke="#999" stroke-width="0.8"/>
<text x="306.30" y="159.90" font-family="Liberation Sans" font-size="6.2" fill="#a2a2a2" text-anchor="middle" font-weight="normal">100</text>
<text x="18.90" y="84.80" font-family="Liberation Sans" font-size="9.3" fill="#8a8a8a" text-anchor="middle" font-weight="normal" transform="rotate(-90 18.90 84.80)" textLength="74.00" lengthAdjust="spacingAndGlyphs">Protein RMSD (<tspan font-style="italic">Å</tspan>)</text>
<text x="323.30" y="85.35" font-family="Liberation Sans" font-size="9.3" fill="#a8385e" text-anchor="middle" font-weight="normal" transform="rotate(90 323.30 85.35)" textLength="72.70" lengthAdjust="spacingAndGlyphs">Ligand RMSD (<tspan font-style="italic">Å</tspan>)</text>
<text x="171.05" y="169.90" font-family="Liberation Sans" font-size="9.2" fill="#8a8a8a" text-anchor="middle" font-weight="normal" textLength="48.30" lengthAdjust="spacingAndGlyphs">Time (nsec)</text>
<text x="171.40" y="7.80" font-family="Liberation Sans" font-size="10.5" fill="#111" text-anchor="middle" font-weight="bold" textLength="111.60" lengthAdjust="spacingAndGlyphs">Protein-Ligand RMSD</text>
<rect x="134.50" y="177.80" width="75.10" height="11.70" rx="1.6" fill="#b8b8b8"/>
<rect x="133.30" y="176.40" width="75.10" height="11.70" rx="1.6" fill="#fff" stroke="#d4d4d4" stroke-width="0.7"/>
<rect x="132.40" y="179.80" width="12.60" height="4.80" fill="#557d96"/>
<text x="145.10" y="184.90" font-family="Liberation Sans" font-size="8.6" fill="#111" textLength="9.60" lengthAdjust="spacingAndGlyphs">C<tspan font-style="italic">α</tspan></text>
<rect x="155.00" y="179.80" width="12.90" height="4.80" fill="#a8385e"/>
<text x="168.00" y="184.90" font-family="Liberation Sans" font-size="8.6" fill="#111" text-anchor="start" font-weight="normal" textLength="39.20" lengthAdjust="spacingAndGlyphs">Lig fit Prot</text>
<text x="0.00" y="15.40" font-family="Liberation Serif" font-size="15" fill="#000" text-anchor="start" font-weight="bold" textLength="20.70" lengthAdjust="spacingAndGlyphs">(A)</text>
<clipPath id="pdc"><rect x="32.4" y="499.3" width="249.99999999999997" height="120.99999999999994"/></clipPath>
<g clip-path="url(#pdc)">
<polyline points="32.4,620.8 32.6,582.3 32.9,583.7 33.1,597.2 33.4,586.8 33.6,596.3 33.9,583.4 34.1,580.8 34.4,576.5 34.6,576.3 34.9,579.7 35.1,586.5 35.4,588.5 35.6,579.8 35.9,586.9 36.1,587.6 36.4,590.9 36.6,590.8 36.9,586.4 37.1,580.2 37.4,580.4 37.6,579.2 37.9,577.5 38.1,572.4 38.4,576.5 38.6,568.9 38.9,556.0 39.1,560.6 39.4,555.5 39.6,539.5 39.9,549.5 40.1,555.3 40.4,549.0 40.6,532.1 40.9,528.0 41.1,542.1 41.4,538.1 41.6,541.0 41.9,545.5 42.1,556.5 42.4,543.3 42.6,549.9 42.9,544.5 43.1,543.8 43.4,533.5 43.6,533.9 43.9,547.2 44.1,547.1 44.4,540.7 44.6,552.7 44.9,551.2 45.1,547.8 45.4,556.7 45.6,558.2 45.9,559.1 46.1,548.8 46.4,549.2 46.6,542.7 46.9,544.8 47.1,542.8 47.4,545.7 47.6,541.3 47.9,544.0 48.1,550.0 48.4,538.3 48.6,535.6 48.9,528.2 49.1,536.1 49.4,541.5 49.6,548.5 49.9,553.3 50.1,554.5 50.4,544.4 50.6,548.0 50.9,554.6 51.1,543.6 51.4,545.3 51.6,544.8 51.9,545.1 52.1,544.1 52.4,541.2 52.6,553.4 52.9,549.5 53.1,549.6 53.4,541.4 53.6,550.0 53.9,537.3 54.1,538.7 54.4,533.0 54.6,544.0 54.9,541.1 55.1,542.4 55.4,552.3 55.6,548.3 55.9,549.5 56.1,551.8 56.4,551.3 56.6,553.8 56.9,549.8 57.1,543.4 57.4,548.1 57.6,554.3 57.9,542.4 58.1,545.8 58.4,545.2 58.6,546.3 58.9,548.3 59.1,543.3 59.4,548.2 59.6,545.8 59.9,552.7 60.1,555.7 60.4,549.7 60.6,535.0 60.9,538.9 61.1,530.5 61.4,536.4 61.6,538.8 61.9,544.9 62.1,543.9 62.4,532.8 62.6,533.9 62.9,544.1 63.1,546.0 63.4,536.7 63.6,543.8 63.9,539.2 64.2,547.6 64.4,541.1 64.6,534.6 64.9,535.1 65.2,538.6 65.4,539.9 65.7,541.3 65.9,541.7 66.1,535.3 66.4,531.7 66.7,535.0 66.9,544.7 67.1,545.1 67.4,540.4 67.7,540.2 67.9,548.5 68.1,540.7 68.4,529.2 68.6,543.9 68.9,541.4 69.2,532.2 69.4,539.0 69.6,541.8 69.9,539.7 70.2,538.3 70.4,542.6 70.6,537.4 70.9,549.8 71.1,540.3 71.4,538.0 71.7,540.5 71.9,537.9 72.1,538.7 72.4,532.7 72.7,540.7 72.9,542.3 73.1,551.9 73.4,554.1 73.6,549.8 73.9,555.1 74.1,551.7 74.4,552.9 74.7,549.0 74.9,544.2 75.2,537.4 75.4,549.6 75.7,545.1 75.9,537.8 76.1,531.4 76.4,530.3 76.6,544.3 76.9,544.0 77.2,537.6 77.4,533.2 77.7,534.7 77.9,535.8 78.2,537.0 78.4,542.6 78.6,539.4 78.9,534.9 79.1,539.9 79.4,533.5 79.7,551.7 79.9,545.6 80.2,530.8 80.4,529.8 80.7,526.7 80.9,531.4 81.1,541.0 81.4,540.8 81.7,530.9 81.9,545.4 82.2,546.0 82.4,550.4 82.7,545.3 82.9,542.5 83.2,535.6 83.4,541.3 83.6,529.1 83.9,531.2 84.2,538.1 84.4,542.6 84.7,547.9 84.9,540.2 85.2,526.3 85.4,533.1 85.7,540.6 85.9,537.8 86.1,539.8 86.4,542.0 86.7,548.9 86.9,541.2 87.2,528.9 87.4,526.2 87.7,526.6 87.9,532.2 88.1,533.2 88.4,530.6 88.6,535.8 88.9,537.0 89.2,540.5 89.4,532.2 89.7,541.1 89.9,535.6 90.2,533.1 90.4,532.4 90.6,532.4 90.9,539.9 91.1,543.4 91.4,544.4 91.7,543.3 91.9,548.2 92.2,546.1 92.4,545.9 92.7,547.1 92.9,540.9 93.1,545.5 93.4,541.8 93.6,533.1 93.9,528.8 94.2,536.2 94.4,534.4 94.7,537.5 94.9,528.1 95.2,527.2 95.4,527.8 95.6,534.7 95.9,538.3 96.1,535.4 96.4,537.2 96.7,538.5 96.9,533.5 97.2,541.0 97.4,547.4 97.7,544.8 97.9,544.9 98.1,538.4 98.4,539.9 98.6,536.3 98.9,545.1 99.2,529.6 99.4,529.8 99.7,535.8 99.9,531.5 100.2,525.2 100.4,505.5 100.6,530.4 100.9,528.7 101.1,526.5 101.4,536.8 101.7,541.4 101.9,538.6 102.2,529.4 102.4,524.5 102.7,530.1 102.9,524.9 103.1,524.3 103.4,531.7 103.6,538.2 103.9,538.8 104.2,535.9 104.4,527.5 104.7,527.4 104.9,538.3 105.1,542.3 105.4,531.8 105.6,531.9 105.9,538.4 106.1,531.0 106.4,524.6 106.7,525.5 106.9,531.1 107.2,525.0 107.4,532.4 107.6,537.1 107.9,540.4 108.1,525.1 108.4,521.9 108.6,530.3 108.9,529.3 109.2,530.4 109.4,527.5 109.7,525.4 109.9,527.8 110.1,533.4 110.4,537.1 110.6,541.0 110.9,546.7 111.1,539.7 111.4,539.5 111.7,533.8 111.9,532.7 112.2,535.3 112.4,533.8 112.6,529.4 112.9,528.5 113.2,533.5 113.4,534.1 113.6,526.6 113.9,525.1 114.2,523.9 114.4,526.3 114.6,522.9 114.9,525.3 115.2,516.1 115.4,528.1 115.7,534.6 115.9,525.2 116.1,531.7 116.4,536.7 116.7,533.0 116.9,547.5 117.1,536.1 117.4,535.9 117.7,534.0 117.9,540.0 118.2,531.4 118.4,532.5 118.6,535.1 118.9,532.7 119.2,537.4 119.4,535.0 119.6,541.2 119.9,540.0 120.2,532.9 120.4,530.7 120.7,525.6 120.9,532.7 121.1,532.3 121.4,535.3 121.7,531.3 121.9,525.8 122.1,523.9 122.4,524.4 122.7,532.4 122.9,530.1 123.2,536.3 123.4,543.8 123.6,535.9 123.9,533.0 124.2,528.1 124.4,526.8 124.6,537.7 124.9,538.1 125.2,534.5 125.4,532.6 125.7,529.5 125.9,537.3 126.1,534.7 126.4,529.6 126.7,520.7 126.9,535.0 127.1,524.5 127.4,530.8 127.7,539.3 127.9,527.2 128.2,535.9 128.4,538.5 128.6,528.9 128.9,524.5 129.2,527.9 129.4,535.0 129.7,541.9 129.9,536.3 130.2,546.0 130.4,545.4 130.7,531.5 130.9,528.7 131.1,524.9 131.4,527.5 131.7,537.0 131.9,530.9 132.2,542.1 132.4,532.3 132.7,524.1 132.9,534.5 133.2,525.4 133.4,527.3 133.6,529.9 133.9,540.6 134.2,534.8 134.4,526.6 134.7,538.3 134.9,534.7 135.2,535.6 135.4,541.0 135.7,529.3 135.9,530.3 136.1,530.8 136.4,526.4 136.7,533.4 136.9,518.3 137.2,527.1 137.4,534.9 137.7,527.0 137.9,526.8 138.2,533.8 138.4,535.7 138.6,527.7 138.9,527.6 139.2,527.1 139.4,523.8 139.7,531.7 139.9,524.7 140.2,528.7 140.4,526.8 140.7,534.9 140.9,529.8 141.1,531.0 141.4,521.5 141.7,528.7 141.9,523.1 142.2,526.4 142.4,522.2 142.7,528.7 142.9,529.3 143.2,544.3 143.4,544.1 143.6,530.8 143.9,529.5 144.2,526.6 144.4,532.0 144.7,528.1 144.9,531.6 145.1,530.6 145.4,523.1 145.7,521.0 145.9,527.4 146.1,526.4 146.4,524.5 146.7,525.0 146.9,525.0 147.2,528.7 147.4,522.3 147.6,527.8 147.9,529.5 148.2,517.7 148.4,509.3 148.6,509.2 148.9,514.7 149.2,522.2 149.4,517.3 149.7,511.4 149.9,509.0 150.1,520.6 150.4,529.4 150.7,531.6 150.9,513.3 151.1,523.5 151.4,522.5 151.7,520.6 151.9,516.2 152.2,523.8 152.4,514.6 152.6,512.1 152.9,514.1 153.2,520.3 153.4,520.5 153.6,529.4 153.9,519.2 154.2,522.0 154.4,527.8 154.7,523.8 154.9,520.3 155.1,520.5 155.4,519.5 155.7,515.7 155.9,525.0 156.1,524.7 156.4,525.1 156.7,535.3 156.9,523.8 157.2,528.9 157.4,527.9 157.6,528.4 157.9,535.0 158.2,529.3 158.4,526.0 158.6,529.8 158.9,546.1 159.2,531.9 159.4,535.8 159.7,539.3 159.9,541.1 160.1,544.1 160.4,540.8 160.7,535.2 160.9,543.2 161.1,538.9 161.4,543.0 161.7,542.4 161.9,543.9 162.2,541.6 162.4,537.3 162.6,540.7 162.9,536.0 163.2,529.4 163.4,542.1 163.6,533.3 163.9,536.1 164.2,536.3 164.4,529.8 164.7,533.2 164.9,536.7 165.1,526.3 165.4,524.4 165.7,526.9 165.9,519.2 166.1,531.0 166.4,539.2 166.7,534.3 166.9,538.5 167.2,531.3 167.4,534.3 167.6,534.4 167.9,531.8 168.2,534.6 168.4,541.6 168.6,536.9 168.9,528.4 169.2,528.7 169.4,524.4 169.7,519.1 169.9,521.7 170.1,528.1 170.4,533.5 170.7,529.2 170.9,521.3 171.1,519.2 171.4,521.4 171.7,531.0 171.9,526.9 172.2,525.0 172.4,522.5 172.6,535.3 172.9,535.3 173.2,530.3 173.4,528.7 173.6,531.7 173.9,527.8 174.2,530.7 174.4,523.8 174.7,531.4 174.9,530.3 175.1,542.5 175.4,534.0 175.7,536.3 175.9,529.1 176.1,531.3 176.4,523.0 176.6,530.9 176.9,538.4 177.2,531.4 177.4,527.4 177.6,531.4 177.9,537.1 178.2,527.4 178.4,521.5 178.6,521.8 178.9,525.5 179.1,527.2 179.4,519.0 179.7,521.0 179.9,530.5 180.1,535.9 180.4,528.4 180.7,525.6 180.9,532.9 181.1,535.8 181.4,528.3 181.6,531.9 181.9,527.0 182.2,535.9 182.4,538.3 182.6,542.6 182.9,535.8 183.2,535.6 183.4,542.3 183.6,534.2 183.9,534.1 184.1,531.4 184.4,522.0 184.7,519.7 184.9,521.2 185.1,526.4 185.4,532.3 185.7,531.7 185.9,530.1 186.1,520.2 186.4,529.1 186.6,530.7 186.9,527.5 187.2,524.1 187.4,519.9 187.6,517.7 187.9,525.9 188.2,517.5 188.4,521.9 188.6,532.9 188.9,536.8 189.1,535.7 189.4,534.3 189.7,527.8 189.9,534.9 190.1,536.5 190.4,538.3 190.7,533.7 190.9,541.7 191.1,532.6 191.4,537.1 191.6,534.7 191.9,529.8 192.2,529.6 192.4,518.4 192.7,531.2 192.9,543.9 193.1,543.9 193.4,532.1 193.6,538.6 193.9,528.5 194.1,530.8 194.4,526.2 194.7,536.7 194.9,527.4 195.2,523.2 195.4,533.5 195.6,526.0 195.9,518.5 196.1,525.8 196.4,534.1 196.7,534.9 196.9,533.3 197.2,526.5 197.4,519.1 197.7,527.9 197.9,529.8 198.1,536.3 198.4,534.6 198.6,527.7 198.9,539.9 199.2,529.8 199.4,523.7 199.7,520.6 199.9,528.5 200.2,536.6 200.4,531.8 200.6,535.4 200.9,539.8 201.1,535.8 201.4,538.8 201.7,522.8 201.9,523.4 202.2,522.5 202.4,532.3 202.7,522.8 202.9,527.7 203.1,523.4 203.4,532.2 203.6,526.8 203.9,538.3 204.2,534.3 204.4,532.6 204.7,539.6 204.9,534.3 205.2,536.6 205.4,535.5 205.6,529.1 205.9,523.6 206.1,531.0 206.4,524.6 206.7,525.7 206.9,526.8 207.2,522.2 207.4,536.9 207.7,525.7 207.9,527.8 208.1,532.1 208.4,531.4 208.6,524.7 208.9,520.9 209.2,521.9 209.4,532.9 209.7,538.3 209.9,531.6 210.2,525.8 210.4,530.5 210.6,523.8 210.9,522.8 211.1,523.7 211.4,531.0 211.7,521.4 211.9,520.0 212.2,517.7 212.4,522.8 212.7,533.9 212.9,528.8 213.1,523.9 213.4,528.1 213.6,535.1 213.9,528.0 214.2,525.4 214.4,534.1 214.7,534.4 214.9,538.0 215.2,530.2 215.4,528.2 215.6,520.0 215.9,531.5 216.1,522.5 216.4,526.8 216.7,526.4 216.9,534.7 217.2,529.8 217.4,532.0 217.7,530.8 217.9,527.1 218.1,524.7 218.4,523.0 218.6,526.4 218.9,531.6 219.2,523.6 219.4,523.8 219.7,528.5 219.9,518.5 220.2,522.7 220.4,521.8 220.6,535.2 220.9,535.7 221.1,521.1 221.4,524.4 221.7,528.2 221.9,536.1 222.2,536.7 222.4,535.2 222.7,536.1 222.9,536.9 223.1,546.6 223.4,543.2 223.6,541.3 223.9,534.3 224.2,532.7 224.4,535.4 224.7,540.0 224.9,541.8 225.2,536.6 225.4,542.0 225.7,539.0 225.9,537.7 226.1,536.7 226.4,526.9 226.7,532.9 226.9,529.6 227.2,525.3 227.4,530.0 227.7,534.2 227.9,541.5 228.2,528.3 228.4,539.0 228.6,547.5 228.9,533.5 229.2,542.6 229.4,543.1 229.7,541.0 229.9,542.9 230.2,546.4 230.4,538.2 230.7,533.7 230.9,530.3 231.1,533.0 231.4,536.9 231.7,540.3 231.9,531.6 232.2,529.7 232.4,536.2 232.7,534.5 232.9,542.4 233.2,536.4 233.4,542.0 233.6,539.2 233.9,539.2 234.2,548.4 234.4,537.7 234.7,537.4 234.9,540.7 235.2,541.3 235.4,538.1 235.7,536.9 235.9,533.8 236.1,534.2 236.4,532.5 236.7,533.1 236.9,543.2 237.2,547.6 237.4,538.8 237.7,535.4 237.9,537.6 238.2,544.5 238.4,543.5 238.6,543.1 238.9,536.3 239.2,540.7 239.4,544.9 239.7,542.3 239.9,536.1 240.2,527.4 240.4,536.7 240.7,530.5 240.9,536.1 241.1,538.5 241.4,541.0 241.7,533.3 241.9,537.8 242.2,529.6 242.4,535.5 242.7,524.3 242.9,529.1 243.2,532.7 243.4,541.1 243.6,529.8 243.9,532.0 244.2,533.8 244.4,533.3 244.7,536.4 244.9,537.0 245.2,533.3 245.4,537.7 245.7,536.2 245.9,525.3 246.1,532.9 246.4,537.0 246.7,532.3 246.9,539.9 247.2,530.2 247.4,533.9 247.7,540.5 247.9,536.9 248.2,540.7 248.4,533.8 248.6,538.5 248.9,533.2 249.2,545.4 249.4,542.4 249.7,534.0 249.9,533.1 250.2,534.9 250.4,530.8 250.7,530.2 250.9,533.3 251.1,534.6 251.4,531.0 251.7,533.6 251.9,548.7 252.2,548.9 252.4,544.1 252.7,535.2 252.9,535.4 253.2,531.8 253.4,529.2 253.6,531.1 253.9,539.4 254.2,533.6 254.4,542.6 254.7,545.2 254.9,540.5 255.2,546.3 255.4,529.1 255.7,518.8 255.9,527.1 256.1,530.6 256.4,539.9 256.6,528.7 256.9,530.6 257.1,533.1 257.4,533.5 257.6,527.0 257.9,525.7 258.1,524.1 258.4,526.7 258.6,533.3 258.9,518.5 259.1,517.3 259.4,524.8 259.6,531.4 259.9,531.6 260.1,522.2 260.4,520.7 260.6,521.3 260.9,516.8 261.1,524.1 261.4,516.4 261.6,519.2 261.9,525.6 262.1,520.7 262.4,520.9 262.6,526.0 262.9,513.9 263.1,528.4 263.4,523.2 263.6,521.4 263.9,527.3 264.1,524.6 264.4,516.1 264.6,526.8 264.9,531.4 265.1,528.8 265.4,523.9 265.6,519.7 265.9,521.2 266.1,530.8 266.4,522.2 266.6,522.5 266.9,520.0 267.1,533.4 267.4,538.0 267.6,534.6 267.9,532.2 268.1,529.8 268.4,533.8 268.6,535.6 268.9,527.5 269.1,539.3 269.4,537.4 269.6,530.6 269.9,524.1 270.1,524.4 270.4,517.2 270.6,521.8 270.9,521.4 271.1,520.2 271.4,523.7 271.6,532.8 271.9,530.1 272.1,529.4 272.4,531.5 272.6,525.5 272.9,529.4 273.1,535.9 273.4,529.9 273.6,532.5 273.9,524.6 274.1,535.3 274.4,535.9 274.6,529.1 274.9,525.2 275.1,525.1 275.4,516.1 275.6,522.7 275.9,525.4 276.1,519.6 276.4,523.6 276.6,520.1 276.9,514.6 277.1,519.5 277.4,522.7 277.6,526.7 277.9,523.4 278.1,520.3 278.4,517.8 278.6,517.2 278.9,509.7 279.1,517.8 279.4,520.2 279.6,525.5 279.9,517.9 280.1,522.9 280.4,526.7 280.6,532.4 280.9,529.6 281.1,522.1 281.4,538.6 281.6,537.6 281.9,535.6 282.1,534.0 282.4,530.1" fill="none" stroke="#557d96" stroke-width="1.25" stroke-linejoin="round"/>
<polyline points="32.4,621.1 32.6,589.1 32.9,597.5 33.1,596.7 33.4,596.9 33.6,585.8 33.9,594.6 34.1,587.7 34.4,590.6 34.6,588.2 34.9,590.8 35.1,591.0 35.4,589.5 35.6,590.0 35.9,588.9 36.1,589.3 36.4,586.1 36.6,582.5 36.9,588.9 37.1,591.6 37.4,590.2 37.6,598.9 37.9,594.2 38.1,595.4 38.4,597.1 38.6,601.3 38.9,596.4 39.1,592.7 39.4,595.5 39.6,597.8 39.9,597.7 40.1,594.3 40.4,598.0 40.6,596.0 40.9,597.7 41.1,594.1 41.4,584.6 41.6,588.6 41.9,581.9 42.1,591.0 42.4,595.4 42.6,594.3 42.9,591.7 43.1,589.4 43.4,588.9 43.6,590.0 43.9,587.2 44.1,589.0 44.4,587.3 44.6,587.2 44.9,588.4 45.1,589.2 45.4,593.1 45.6,589.2 45.9,588.1 46.1,591.9 46.4,581.4 46.6,586.6 46.9,595.1 47.1,598.2 47.4,597.8 47.6,601.3 47.9,594.2 48.1,597.2 48.4,593.0 48.6,598.6 48.9,593.6 49.1,587.2 49.4,588.2 49.6,597.5 49.9,593.5 50.1,593.1 50.4,586.4 50.6,587.1 50.9,581.7 51.1,586.9 51.4,593.1 51.6,595.4 51.9,586.6 52.1,592.3 52.4,589.4 52.6,580.8 52.9,587.1 53.1,592.6 53.4,586.8 53.6,587.1 53.9,594.8 54.1,588.9 54.4,589.8 54.6,587.6 54.9,592.2 55.1,587.5 55.4,591.8 55.6,586.5 55.9,594.6 56.1,591.1 56.4,589.3 56.6,596.2 56.9,601.0 57.1,598.6 57.4,597.6 57.6,596.0 57.9,593.9 58.1,582.4 58.4,587.6 58.6,583.3 58.9,586.2 59.1,584.9 59.4,586.3 59.6,588.9 59.9,588.7 60.1,582.7 60.4,594.8 60.6,591.8 60.9,588.0 61.1,594.8 61.4,590.6 61.6,590.2 61.9,585.7 62.1,586.1 62.4,588.7 62.6,588.1 62.9,598.3 63.1,585.2 63.4,587.6 63.6,595.0 63.9,596.9 64.2,593.8 64.4,593.8 64.6,591.2 64.9,593.1 65.2,589.0 65.4,592.1 65.7,591.1 65.9,596.5 66.1,596.0 66.4,594.4 66.7,596.7 66.9,594.5 67.1,593.8 67.4,598.7 67.7,588.5 67.9,594.9 68.1,585.2 68.4,584.6 68.6,586.9 68.9,589.8 69.2,594.7 69.4,586.4 69.6,583.1 69.9,592.6 70.2,584.4 70.4,584.8 70.6,585.2 70.9,587.0 71.1,591.3 71.4,592.4 71.7,592.0 71.9,586.6 72.1,596.7 72.4,593.8 72.7,598.2 72.9,593.8 73.1,593.6 73.4,595.3 73.6,590.0 73.9,588.3 74.1,596.1 74.4,597.2 74.7,592.8 74.9,594.5 75.2,591.6 75.4,601.8 75.7,597.9 75.9,594.5 76.1,590.6 76.4,581.4 76.6,589.0 76.9,590.8 77.2,584.9 77.4,588.9 77.7,582.5 77.9,583.2 78.2,594.6 78.4,590.5 78.6,584.6 78.9,587.3 79.1,587.3 79.4,587.9 79.7,587.9 79.9,583.7 80.2,585.3 80.4,587.1 80.7,581.7 80.9,593.2 81.1,595.4 81.4,595.1 81.7,596.2 81.9,601.8 82.2,585.3 82.4,590.2 82.7,590.5 82.9,592.6 83.2,598.9 83.4,586.4 83.6,591.8 83.9,592.7 84.2,593.6 84.4,592.0 84.7,586.7 84.9,589.9 85.2,600.7 85.4,598.0 85.7,596.9 85.9,589.9 86.1,591.6 86.4,588.1 86.7,588.2 86.9,590.8 87.2,586.8 87.4,590.0 87.7,595.0 87.9,597.7 88.1,596.8 88.4,599.4 88.6,595.1 88.9,591.2 89.2,595.4 89.4,599.5 89.7,599.8 89.9,590.5 90.2,592.0 90.4,591.4 90.6,591.0 90.9,591.9 91.1,593.3 91.4,588.8 91.7,587.8 91.9,592.4 92.2,594.0 92.4,592.1 92.7,589.9 92.9,588.3 93.1,590.1 93.4,590.5 93.6,594.9 93.9,586.4 94.2,588.0 94.4,584.6 94.7,588.0 94.9,591.1 95.2,591.3 95.4,591.9 95.6,587.1 95.9,589.1 96.1,583.6 96.4,583.7 96.7,577.5 96.9,589.5 97.2,582.1 97.4,587.4 97.7,588.4 97.9,588.1 98.1,584.8 98.4,588.0 98.6,591.9 98.9,584.2 99.2,591.3 99.4,587.5 99.7,590.7 99.9,586.5 100.2,590.4 100.4,595.1 100.6,599.4 100.9,598.0 101.1,591.8 101.4,585.9 101.7,589.5 101.9,590.8 102.2,598.2 102.4,596.4 102.7,589.9 102.9,587.4 103.1,596.6 103.4,597.3 103.6,597.7 103.9,594.2 104.2,597.1 104.4,593.8 104.7,587.6 104.9,591.0 105.1,594.0 105.4,592.3 105.6,597.5 105.9,593.5 106.1,591.3 106.4,584.6 106.7,593.1 106.9,586.8 107.2,586.3 107.4,581.1 107.6,580.6 107.9,584.8 108.1,589.8 108.4,584.3 108.6,581.8 108.9,587.4 109.2,582.5 109.4,587.3 109.7,586.4 109.9,592.9 110.1,588.9 110.4,590.4 110.6,591.7 110.9,594.7 111.1,595.5 111.4,590.9 111.7,592.5 111.9,599.0 112.2,598.3 112.4,587.3 112.6,590.9 112.9,592.6 113.2,585.7 113.4,598.0 113.6,599.5 113.9,592.7 114.2,588.2 114.4,589.8 114.6,596.5 114.9,589.2 115.2,590.3 115.4,595.1 115.7,601.8 115.9,597.0 116.1,598.3 116.4,598.6 116.7,597.8 116.9,596.2 117.1,595.0 117.4,591.4 117.7,585.1 117.9,597.5 118.2,597.0 118.4,592.9 118.6,591.5 118.9,589.1 119.2,591.8 119.4,591.9 119.6,588.9 119.9,585.2 120.2,585.3 120.4,589.5 120.7,587.0 120.9,587.8 121.1,593.6 121.4,588.5 121.7,587.0 121.9,592.9 122.1,587.4 122.4,590.9 122.7,582.6 122.9,591.9 123.2,592.0 123.4,592.8 123.6,596.3 123.9,595.2 124.2,591.8 124.4,592.2 124.6,589.8 124.9,592.0 125.2,589.5 125.4,589.0 125.7,594.1 125.9,599.1 126.1,591.7 126.4,594.5 126.7,598.2 126.9,592.0 127.1,590.7 127.4,586.7 127.7,584.8 127.9,580.0 128.2,582.5 128.4,583.0 128.6,581.1 128.9,579.6 129.2,585.7 129.4,588.0 129.7,586.5 129.9,596.4 130.2,590.7 130.4,585.7 130.7,589.7 130.9,588.2 131.1,594.0 131.4,589.5 131.7,597.6 131.9,596.0 132.2,589.7 132.4,595.0 132.7,591.5 132.9,596.9 133.2,593.9 133.4,592.8 133.6,593.2 133.9,596.0 134.2,594.3 134.4,596.4 134.7,596.1 134.9,598.9 135.2,595.0 135.4,588.5 135.7,581.8 135.9,583.7 136.1,586.1 136.4,592.3 136.7,592.9 136.9,586.3 137.2,582.0 137.4,588.7 137.7,589.6 137.9,583.9 138.2,582.2 138.4,582.4 138.6,588.2 138.9,590.2 139.2,588.8 139.4,598.5 139.7,591.5 139.9,586.1 140.2,587.1 140.4,587.6 140.7,592.9 140.9,589.3 141.1,588.1 141.4,591.7 141.7,588.3 141.9,591.8 142.2,591.5 142.4,587.4 142.7,589.6 142.9,589.8 143.2,591.3 143.4,585.0 143.6,580.4 143.9,578.6 144.2,581.9 144.4,584.6 144.7,584.6 144.9,580.8 145.1,577.5 145.4,567.4 145.7,557.4 145.9,558.4 146.1,552.4 146.4,554.7 146.7,559.2 146.9,551.5 147.2,560.3 147.4,559.4 147.6,558.2 147.9,561.1 148.2,553.8 148.4,561.0 148.6,557.2 148.9,560.6 149.2,559.4 149.4,552.7 149.7,560.0 149.9,562.6 150.1,556.5 150.4,559.7 150.7,555.8 150.9,550.4 151.1,555.4 151.4,556.2 151.7,555.5 151.9,556.5 152.2,568.2 152.4,569.6 152.6,557.2 152.9,557.5 153.2,563.3 153.4,560.4 153.6,557.5 153.9,561.6 154.2,557.5 154.4,552.2 154.7,554.2 154.9,554.5 155.1,557.4 155.4,555.1 155.7,560.0 155.9,553.2 156.1,553.3 156.4,550.1 156.7,548.6 156.9,557.2 157.2,557.0 157.4,562.7 157.6,551.4 157.9,557.9 158.2,562.6 158.4,557.8 158.6,557.7 158.9,552.9 159.2,559.3 159.4,553.7 159.7,551.1 159.9,562.5 160.1,562.0 160.4,565.3 160.7,566.9 160.9,568.1 161.1,566.6 161.4,566.4 161.7,568.9 161.9,555.1 162.2,566.4 162.4,567.6 162.6,567.5 162.9,573.2 163.2,567.0 163.4,563.6 163.6,564.2 163.9,570.0 164.2,566.3 164.4,571.5 164.7,568.2 164.9,565.8 165.1,563.9 165.4,565.4 165.7,564.4 165.9,563.1 166.1,565.2 166.4,568.6 166.7,564.3 166.9,561.0 167.2,558.9 167.4,563.1 167.6,559.7 167.9,563.9 168.2,562.6 168.4,560.4 168.6,553.2 168.9,558.8 169.2,558.3 169.4,559.2 169.7,552.5 169.9,550.3 170.1,554.9 170.4,561.9 170.7,555.3 170.9,561.5 171.1,555.1 171.4,563.0 171.7,556.7 171.9,559.3 172.2,563.4 172.4,556.9 172.6,555.9 172.9,564.8 173.2,553.4 173.4,556.2 173.6,562.8 173.9,557.1 174.2,553.4 174.4,553.1 174.7,555.9 174.9,551.1 175.1,555.1 175.4,558.3 175.7,551.5 175.9,555.7 176.1,556.5 176.4,549.0 176.6,556.7 176.9,549.4 177.2,553.9 177.4,553.8 177.6,554.8 177.9,556.7 178.2,554.0 178.4,549.3 178.6,556.3 178.9,558.2 179.1,554.4 179.4,554.8 179.7,544.9 179.9,547.6 180.1,552.1 180.4,557.0 180.7,553.9 180.9,556.0 181.1,550.4 181.4,558.2 181.6,555.8 181.9,552.2 182.2,558.7 182.4,560.2 182.6,561.5 182.9,554.9 183.2,554.7 183.4,563.8 183.6,559.0 183.9,556.7 184.1,555.0 184.4,550.3 184.7,560.8 184.9,553.5 185.1,560.4 185.4,559.5 185.7,559.2 185.9,558.1 186.1,557.9 186.4,556.0 186.6,552.3 186.9,550.1 187.2,550.9 187.4,554.3 187.6,557.3 187.9,551.4 188.2,551.1 188.4,551.4 188.6,552.9 188.9,551.8 189.1,563.0 189.4,555.3 189.7,553.4 189.9,558.6 190.1,554.2 190.4,558.6 190.7,560.6 190.9,557.3 191.1,551.9 191.4,553.5 191.6,561.7 191.9,561.1 192.2,555.6 192.4,554.2 192.7,558.6 192.9,554.9 193.1,549.0 193.4,554.8 193.6,550.8 193.9,552.5 194.1,555.8 194.4,556.5 194.7,554.7 194.9,548.4 195.2,550.3 195.4,551.7 195.6,557.2 195.9,555.9 196.1,557.9 196.4,559.3 196.7,552.4 196.9,552.7 197.2,561.1 197.4,554.8 197.7,552.6 197.9,558.8 198.1,559.7 198.4,559.5 198.6,555.9 198.9,554.2 199.2,556.5 199.4,556.8 199.7,557.1 199.9,564.6 200.2,566.8 200.4,555.8 200.6,556.6 200.9,557.2 201.1,562.0 201.4,562.4 201.7,565.6 201.9,556.1 202.2,557.9 202.4,554.8 202.7,558.2 202.9,559.2 203.1,551.1 203.4,551.7 203.6,557.3 203.9,560.1 204.2,560.8 204.4,558.8 204.7,563.5 204.9,551.1 205.2,551.6 205.4,552.6 205.6,565.0 205.9,565.3 206.1,551.9 206.4,551.7 206.7,548.0 206.9,546.8 207.2,546.2 207.4,546.2 207.7,550.1 207.9,552.9 208.1,551.3 208.4,550.4 208.6,554.8 208.9,556.3 209.2,553.5 209.4,558.7 209.7,563.6 209.9,550.7 210.2,551.5 210.4,546.6 210.6,547.0 210.9,547.5 211.1,548.4 211.4,549.2 211.7,548.1 211.9,555.6 212.2,555.9 212.4,549.2 212.7,553.3 212.9,558.1 213.1,548.1 213.4,560.1 213.6,554.9 213.9,556.4 214.2,553.2 214.4,555.6 214.7,557.1 214.9,555.9 215.2,554.0 215.4,559.5 215.6,559.4 215.9,560.0 216.1,550.2 216.4,558.8 216.7,554.0 216.9,562.5 217.2,563.8 217.4,553.8 217.7,558.3 217.9,551.5 218.1,547.7 218.4,552.3 218.6,554.0 218.9,561.9 219.2,560.3 219.4,554.0 219.7,562.2 219.9,553.4 220.2,556.0 220.4,555.6 220.6,551.3 220.9,560.0 221.1,559.2 221.4,553.6 221.7,556.3 221.9,556.8 222.2,551.3 222.4,552.8 222.7,559.7 222.9,557.5 223.1,554.8 223.4,553.9 223.6,552.5 223.9,547.0 224.2,558.2 224.4,557.9 224.7,552.2 224.9,556.0 225.2,555.0 225.4,552.6 225.7,554.9 225.9,554.7 226.1,554.3 226.4,554.3 226.7,562.8 226.9,555.1 227.2,554.7 227.4,557.8 227.7,561.0 227.9,555.4 228.2,557.0 228.4,552.0 228.6,556.1 228.9,551.1 229.2,555.8 229.4,556.8 229.7,556.9 229.9,549.4 230.2,548.8 230.4,550.1 230.7,554.1 230.9,551.2 231.1,546.8 231.4,551.8 231.7,548.8 231.9,550.5 232.2,557.0 232.4,560.4 232.7,558.2 232.9,560.6 233.2,556.4 233.4,553.5 233.6,564.7 233.9,560.4 234.2,552.6 234.4,560.0 234.7,564.1 234.9,561.4 235.2,560.7 235.4,553.8 235.7,557.4 235.9,548.4 236.1,551.0 236.4,556.4 236.7,554.4 236.9,547.2 237.2,552.2 237.4,553.0 237.7,558.8 237.9,557.5 238.2,553.1 238.4,557.1 238.6,545.1 238.9,549.9 239.2,558.1 239.4,560.6 239.7,555.2 239.9,557.1 240.2,561.8 240.4,553.4 240.7,557.1 240.9,557.4 241.1,558.2 241.4,561.7 241.7,563.1 241.9,554.1 242.2,547.9 242.4,549.2 242.7,556.0 242.9,554.3 243.2,548.5 243.4,552.5 243.6,548.4 243.9,554.3 244.2,549.3 244.4,545.4 244.7,545.2 244.9,550.5 245.2,550.1 245.4,553.0 245.7,551.5 245.9,547.6 246.1,551.8 246.4,546.5 246.7,552.5 246.9,551.6 247.2,544.6 247.4,552.3 247.7,549.1 247.9,544.2 248.2,545.4 248.4,549.6 248.6,549.2 248.9,546.6 249.2,542.4 249.4,548.4 249.7,548.6 249.9,547.9 250.2,553.2 250.4,549.2 250.7,549.0 250.9,556.1 251.1,552.8 251.4,551.5 251.7,553.9 251.9,549.5 252.2,547.3 252.4,548.8 252.7,555.0 252.9,558.6 253.2,551.6 253.4,561.0 253.6,558.2 253.9,560.0 254.2,558.3 254.4,560.3 254.7,559.6 254.9,554.5 255.2,559.0 255.4,549.6 255.7,556.6 255.9,553.9 256.1,557.5 256.4,546.8 256.6,550.5 256.9,547.7 257.1,546.7 257.4,546.9 257.6,546.3 257.9,546.3 258.1,546.4 258.4,545.6 258.6,551.0 258.9,549.2 259.1,546.7 259.4,549.0 259.6,550.0 259.9,553.3 260.1,545.3 260.4,548.0 260.6,539.2 260.9,536.7 261.1,544.0 261.4,545.1 261.6,543.8 261.9,535.0 262.1,541.0 262.4,542.3 262.6,540.7 262.9,536.6 263.1,541.0 263.4,547.3 263.6,540.6 263.9,536.3 264.1,537.1 264.4,535.4 264.6,540.8 264.9,542.7 265.1,536.6 265.4,544.7 265.6,547.9 265.9,538.9 266.1,545.4 266.4,538.3 266.6,543.1 266.9,537.7 267.1,532.6 267.4,533.1 267.6,536.8 267.9,539.9 268.1,538.4 268.4,539.9 268.6,543.0 268.9,538.4 269.1,542.9 269.4,540.0 269.6,543.9 269.9,545.8 270.1,534.5 270.4,537.5 270.6,531.9 270.9,534.1 271.1,534.9 271.4,535.5 271.6,537.4 271.9,532.5 272.1,530.2 272.4,507.3 272.6,525.6 272.9,524.4 273.1,524.4 273.4,527.8 273.6,519.4 273.9,519.0 274.1,521.9 274.4,531.3 274.6,535.1 274.9,530.6 275.1,531.5 275.4,531.5 275.6,528.1 275.9,530.2 276.1,534.3 276.4,537.9 276.6,534.0 276.9,535.4 277.1,533.2 277.4,536.1 277.6,534.5 277.9,531.4 278.1,538.8 278.4,532.8 278.6,529.7 278.9,537.2 279.1,539.6 279.4,536.8 279.6,538.4 279.9,528.0 280.1,538.6 280.4,537.0 280.6,536.5 280.9,531.3 281.1,533.1 281.4,534.1 281.6,534.3 281.9,533.1 282.1,531.6 282.4,538.3" fill="none" stroke="#a8385e" stroke-width="1.25" stroke-linejoin="round"/>
</g>
<rect x="32.4" y="499.3" width="249.99999999999997" height="120.99999999999994" fill="none" stroke="#555555" stroke-width="1"/>
<line x1="29.80" y1="606.97" x2="32.40" y2="606.97" stroke="#999" stroke-width="0.8"/>
<text x="28.30" y="608.97" font-family="Liberation Sans" font-size="5.9" fill="#a2a2a2" text-anchor="end" font-weight="normal">0.6</text>
<line x1="29.80" y1="593.14" x2="32.40" y2="593.14" stroke="#999" stroke-width="0.8"/>
<text x="28.30" y="595.14" font-family="Liberation Sans" font-size="5.9" fill="#a2a2a2" text-anchor="end" font-weight="normal">1.2</text>
<line x1="29.80" y1="579.31" x2="32.40" y2="579.31" stroke="#999" stroke-width="0.8"/>
<text x="28.30" y="581.31" font-family="Liberation Sans" font-size="5.9" fill="#a2a2a2" text-anchor="end" font-weight="normal">1.8</text>
<line x1="29.80" y1="565.48" x2="32.40" y2="565.48" stroke="#999" stroke-width="0.8"/>
<text x="28.30" y="567.48" font-family="Liberation Sans" font-size="5.9" fill="#a2a2a2" text-anchor="end" font-weight="normal">2.4</text>
<line x1="29.80" y1="551.65" x2="32.40" y2="551.65" stroke="#999" stroke-width="0.8"/>
<text x="28.30" y="553.65" font-family="Liberation Sans" font-size="5.9" fill="#a2a2a2" text-anchor="end" font-weight="normal">3.0</text>
<line x1="29.80" y1="537.82" x2="32.40" y2="537.82" stroke="#999" stroke-width="0.8"/>
<text x="28.30" y="539.82" font-family="Liberation Sans" font-size="5.9" fill="#a2a2a2" text-anchor="end" font-weight="normal">3.6</text>
<line x1="29.80" y1="523.99" x2="32.40" y2="523.99" stroke="#999" stroke-width="0.8"/>
<text x="28.30" y="525.99" font-family="Liberation Sans" font-size="5.9" fill="#a2a2a2" text-anchor="end" font-weight="normal">4.2</text>
<line x1="29.80" y1="510.16" x2="32.40" y2="510.16" stroke="#999" stroke-width="0.8"/>
<text x="28.30" y="512.16" font-family="Liberation Sans" font-size="5.9" fill="#a2a2a2" text-anchor="end" font-weight="normal">4.8</text>
<line x1="282.40" y1="605.80" x2="285.00" y2="605.80" stroke="#a8385e" stroke-width="0.8"/>
<text x="286.50" y="607.80" font-family="Liberation Sans" font-size="5.9" fill="#a8385e" text-anchor="start" font-weight="normal">0.8</text>
<line x1="282.40" y1="590.50" x2="285.00" y2="590.50" stroke="#a8385e" stroke-width="0.8"/>
<text x="286.50" y="592.50" font-family="Liberation Sans" font-size="5.9" fill="#a8385e" text-anchor="start" font-weight="normal">1.6</text>
<line x1="282.40" y1="575.20" x2="285.00" y2="575.20" stroke="#a8385e" stroke-width="0.8"/>
<text x="286.50" y="577.20" font-family="Liberation Sans" font-size="5.9" fill="#a8385e" text-anchor="start" font-weight="normal">2.4</text>
<line x1="282.40" y1="559.90" x2="285.00" y2="559.90" stroke="#a8385e" stroke-width="0.8"/>
<text x="286.50" y="561.90" font-family="Liberation Sans" font-size="5.9" fill="#a8385e" text-anchor="start" font-weight="normal">3.2</text>
<line x1="282.40" y1="544.60" x2="285.00" y2="544.60" stroke="#a8385e" stroke-width="0.8"/>
<text x="286.50" y="546.60" font-family="Liberation Sans" font-size="5.9" fill="#a8385e" text-anchor="start" font-weight="normal">4.0</text>
<line x1="282.40" y1="529.30" x2="285.00" y2="529.30" stroke="#a8385e" stroke-width="0.8"/>
<text x="286.50" y="531.30" font-family="Liberation Sans" font-size="5.9" fill="#a8385e" text-anchor="start" font-weight="normal">4.8</text>
<line x1="282.40" y1="514.00" x2="285.00" y2="514.00" stroke="#a8385e" stroke-width="0.8"/>
<text x="286.50" y="516.00" font-family="Liberation Sans" font-size="5.9" fill="#a8385e" text-anchor="start" font-weight="normal">5.6</text>
<line x1="32.40" y1="620.30" x2="32.40" y2="622.50" stroke="#999" stroke-width="0.8"/>
<text x="32.40" y="629.60" font-family="Liberation Sans" font-size="5.9" fill="#a2a2a2" text-anchor="middle" font-weight="normal">0</text>
<line x1="82.40" y1="620.30" x2="82.40" y2="622.50" stroke="#999" stroke-width="0.8"/>
<text x="82.40" y="629.60" font-family="Liberation Sans" font-size="5.9" fill="#a2a2a2" text-anchor="middle" font-weight="normal">20</text>
<line x1="132.40" y1="620.30" x2="132.40" y2="622.50" stroke="#999" stroke-width="0.8"/>
<text x="132.40" y="629.60" font-family="Liberation Sans" font-size="5.9" fill="#a2a2a2" text-anchor="middle" font-weight="normal">40</text>
<line x1="182.40" y1="620.30" x2="182.40" y2="622.50" stroke="#999" stroke-width="0.8"/>
<text x="182.40" y="629.60" font-family="Liberation Sans" font-size="5.9" fill="#a2a2a2" text-anchor="middle" font-weight="normal">60</text>
<line x1="232.40" y1="620.30" x2="232.40" y2="622.50" stroke="#999" stroke-width="0.8"/>
<text x="232.40" y="629.60" font-family="Liberation Sans" font-size="5.9" fill="#a2a2a2" text-anchor="middle" font-weight="normal">80</text>
<line x1="282.40" y1="620.30" x2="282.40" y2="622.50" stroke="#999" stroke-width="0.8"/>
<text x="282.40" y="629.60" font-family="Liberation Sans" font-size="5.9" fill="#a2a2a2" text-anchor="middle" font-weight="normal">100</text>
<text x="16.60" y="559.70" font-family="Liberation Sans" font-size="8.6" fill="#8a8a8a" text-anchor="middle" font-weight="normal" transform="rotate(-90 16.60 559.70)" textLength="68.40" lengthAdjust="spacingAndGlyphs">Protein RMSD (<tspan font-style="italic">Å</tspan>)</text>
<text x="299.50" y="560.50" font-family="Liberation Sans" font-size="8.6" fill="#a8385e" text-anchor="middle" font-weight="normal" transform="rotate(90 299.50 560.50)" textLength="67.70" lengthAdjust="spacingAndGlyphs">Ligand RMSD (<tspan font-style="italic">Å</tspan>)</text>
<text x="157.20" y="638.30" font-family="Liberation Sans" font-size="8.5" fill="#8a8a8a" text-anchor="middle" font-weight="normal" textLength="44.40" lengthAdjust="spacingAndGlyphs">Time (nsec)</text>
<text x="157.40" y="488.80" font-family="Liberation Sans" font-size="9.7" fill="#111" text-anchor="middle" font-weight="bold" textLength="103.60" lengthAdjust="spacingAndGlyphs">Protein-Ligand RMSD</text>
<rect x="123.60" y="645.70" width="69.30" height="10.80" rx="1.6" fill="#b8b8b8"/>
<rect x="122.40" y="644.30" width="69.30" height="10.80" rx="1.6" fill="#fff" stroke="#d4d4d4" stroke-width="0.7"/>
<rect x="121.80" y="647.20" width="11.20" height="4.60" fill="#557d96"/>
<text x="133.10" y="652.00" font-family="Liberation Sans" font-size="7.9" fill="#111" textLength="8.60" lengthAdjust="spacingAndGlyphs">C<tspan font-style="italic">α</tspan></text>
<rect x="142.90" y="647.20" width="11.60" height="4.60" fill="#a8385e"/>
<text x="154.60" y="652.00" font-family="Liberation Sans" font-size="7.9" fill="#111" text-anchor="start" font-weight="normal" textLength="35.90" lengthAdjust="spacingAndGlyphs">Lig fit Prot</text>
<text x="4.90" y="471.90" font-family="Liberation Serif" font-size="15" fill="#000" text-anchor="start" font-weight="bold" textLength="21.30" lengthAdjust="spacingAndGlyphs">(D)</text>
<rect x="387.24" y="22.30" width="15.30" height="130.40" fill="#fbded9"/>
<rect x="411.18" y="22.30" width="14.81" height="130.40" fill="#fbded9"/>
<rect x="462.02" y="22.30" width="8.27" height="130.40" fill="#fbded9"/>
<rect x="507.68" y="22.30" width="10.37" height="130.40" fill="#fbded9"/>
<rect x="559.51" y="22.30" width="26.78" height="130.40" fill="#fbded9"/>
<rect x="604.05" y="22.30" width="12.96" height="130.40" fill="#fbded9"/>
<rect x="622.32" y="22.30" width="5.92" height="130.40" fill="#fbded9"/>
<rect x="636.01" y="22.30" width="17.03" height="130.40" fill="#fbded9"/>
<rect x="659.21" y="22.30" width="12.46" height="130.40" fill="#fbded9"/>
<rect x="430.92" y="22.30" width="8.27" height="130.40" fill="#d6eef5"/>
<rect x="492.99" y="22.30" width="3.33" height="130.40" fill="#d6eef5"/>
<rect x="523.97" y="22.30" width="9.01" height="130.40" fill="#d6eef5"/>
<rect x="539.89" y="22.30" width="9.25" height="130.40" fill="#d6eef5"/>
<line x1="434.50" y1="152.70" x2="434.50" y2="131.92" stroke="#228b22" stroke-width="1.3"/>
<line x1="437.34" y1="152.70" x2="437.34" y2="118.40" stroke="#228b22" stroke-width="1.3"/>
<line x1="457.83" y1="152.70" x2="457.83" y2="126.60" stroke="#228b22" stroke-width="1.3"/>
<line x1="462.88" y1="152.70" x2="462.88" y2="116.33" stroke="#228b22" stroke-width="1.3"/>
<line x1="464.12" y1="152.70" x2="464.12" y2="116.77" stroke="#228b22" stroke-width="1.3"/>
<line x1="467.94" y1="152.70" x2="467.94" y2="120.49" stroke="#228b22" stroke-width="1.3"/>
<line x1="478.93" y1="152.70" x2="478.93" y2="115.37" stroke="#228b22" stroke-width="1.3"/>
<line x1="482.01" y1="152.70" x2="482.01" y2="122.84" stroke="#228b22" stroke-width="1.3"/>
<line x1="482.75" y1="152.70" x2="482.75" y2="117.78" stroke="#228b22" stroke-width="1.3"/>
<line x1="497.56" y1="152.70" x2="497.56" y2="115.00" stroke="#228b22" stroke-width="1.3"/>
<line x1="503.73" y1="152.70" x2="503.73" y2="102.83" stroke="#228b22" stroke-width="1.3"/>
<line x1="511.50" y1="152.70" x2="511.50" y2="118.24" stroke="#228b22" stroke-width="1.3"/>
<line x1="512.61" y1="152.70" x2="512.61" y2="118.66" stroke="#228b22" stroke-width="1.3"/>
<line x1="516.19" y1="152.70" x2="516.19" y2="122.21" stroke="#228b22" stroke-width="1.3"/>
<line x1="521.99" y1="152.70" x2="521.99" y2="118.98" stroke="#228b22" stroke-width="1.3"/>
<line x1="545.81" y1="152.70" x2="545.81" y2="134.43" stroke="#228b22" stroke-width="1.3"/>
<polyline points="386.5,77.4 387.0,77.4 387.7,78.3 388.5,96.2 389.6,86.8 390.6,85.2 391.2,93.1 392.4,100.9 393.7,91.5 394.8,93.1 395.9,97.8 397.1,105.6 398.3,94.6 400.0,88.4 400.9,96.2 402.5,100.9 404.1,85.2 405.6,91.5 407.2,85.2 408.7,88.4 411.2,88.4 412.7,97.8 414.5,116.6 415.7,110.3 417.4,113.4 419.0,110.3 420.8,113.4 422.0,109.4 423.5,119.7 425.1,109.4 426.6,111.9 428.2,109.4 429.8,116.6 431.4,121.3 432.9,128.8 434.5,131.9 436.1,127.5 437.6,116.6 439.9,104.0 442.3,94.6 443.9,80.5 445.4,79.0 447.0,64.9 448.2,74.3 449.3,93.1 450.8,94.6 451.9,102.5 453.1,82.1 454.6,111.9 456.3,124.4 457.8,126.6 459.2,113.4 460.5,99.3 461.8,108.7 463.4,119.7 465.4,111.9 467.6,122.8 469.1,113.4 470.7,109.4 471.9,111.9 473.1,110.3 474.2,118.8 475.7,110.3 476.8,105.6 478.1,110.3 479.7,119.7 480.8,116.6 482.0,122.8 483.6,111.9 485.6,97.8 487.2,93.7 488.3,96.2 490.3,85.2 491.4,94.6 492.9,108.7 494.5,118.1 496.8,118.1 498.3,111.9 499.9,102.5 501.5,96.2 503.0,107.2 504.6,97.8 506.1,99.3 507.3,108.7 508.9,108.7 510.5,116.6 512.4,119.7 513.8,113.4 515.5,121.3 516.7,122.8 518.5,111.9 520.1,113.4 521.6,119.7 523.2,116.6 524.7,122.8 526.3,127.5 528.2,130.7 530.3,122.8 532.6,110.3 535.0,102.5 537.2,96.8 538.8,99.3 540.4,107.2 542.7,121.3 545.1,133.8 546.5,135.1 548.2,127.5 550.5,113.4 552.8,100.9 554.3,99.3 555.9,105.6 557.4,96.2 559.0,93.7 560.5,102.5 561.9,111.9 563.3,108.7 565.2,119.7 567.5,119.7 569.1,122.8 570.6,128.8 572.2,122.8 573.8,121.3 575.3,125.7 576.9,118.1 579.0,116.6 580.7,110.3 582.3,104.7 584.2,104.0 585.8,96.2 587.3,89.9 588.9,91.5 590.5,99.3 592.0,100.9 593.6,104.7 595.0,97.8 597.1,91.5 598.6,107.2 600.2,85.2 601.5,72.7 602.6,83.7 604.1,72.1 605.2,72.7 606.4,86.8 607.5,99.3 609.1,100.0 610.3,102.5 611.6,111.9 612.7,118.1 614.2,107.2 615.8,102.5 617.3,99.3 618.9,82.1 620.1,74.3 621.2,79.0 622.4,75.2 623.6,77.4 624.7,64.2 625.9,72.7 627.4,86.8 629.0,71.1 630.2,66.4 631.3,72.7 632.4,72.7 633.7,58.0 635.2,56.4 636.0,52.3 637.0,57.0 638.6,43.9 639.8,55.5 641.0,77.4 642.2,66.4 643.4,58.6 644.5,75.8 645.8,89.9 647.4,72.7 648.5,77.4 649.7,100.9 650.7,88.4 651.9,79.0 653.0,93.1 654.3,106.2 655.4,91.5 656.7,93.1 658.2,75.2 659.5,79.0 660.8,88.4 661.9,89.9 663.2,100.9 664.8,115.0 665.9,111.9 667.1,100.9 668.3,113.4 669.7,116.6 670.9,97.8 672.0,88.4 673.3,91.5 674.4,82.1 675.6,95.3 676.7,95.3 678.1,53.9" fill="none" stroke="#456f8c" stroke-width="1.1" stroke-linejoin="round"/>
<line x1="386.50" y1="22.30" x2="679.60" y2="22.30" stroke="#d8d8d8" stroke-width="1"/>
<line x1="679.60" y1="22.30" x2="679.60" y2="152.70" stroke="#d8d8d8" stroke-width="1"/>
<line x1="386.50" y1="152.70" x2="679.60" y2="152.70" stroke="#d8d8d8" stroke-width="1"/>
<line x1="386.50" y1="21.80" x2="386.50" y2="153.20" stroke="#9a9a9a" stroke-width="1"/>
<line x1="384.10" y1="136.94" x2="386.50" y2="136.94" stroke="#999" stroke-width="0.8"/>
<text x="381.10" y="138.94" font-family="Liberation Sans" font-size="6.0" fill="#a2a2a2" text-anchor="end" font-weight="normal">0.5</text>
<line x1="384.10" y1="121.27" x2="386.50" y2="121.27" stroke="#999" stroke-width="0.8"/>
<text x="381.10" y="123.27" font-family="Liberation Sans" font-size="6.0" fill="#a2a2a2" text-anchor="end" font-weight="normal">1.0</text>
<line x1="384.10" y1="105.60" x2="386.50" y2="105.60" stroke="#999" stroke-width="0.8"/>
<text x="381.10" y="107.60" font-family="Liberation Sans" font-size="6.0" fill="#a2a2a2" text-anchor="end" font-weight="normal">1.5</text>
<line x1="384.10" y1="89.94" x2="386.50" y2="89.94" stroke="#999" stroke-width="0.8"/>
<text x="381.10" y="91.94" font-family="Liberation Sans" font-size="6.0" fill="#a2a2a2" text-anchor="end" font-weight="normal">2.0</text>
<line x1="384.10" y1="74.28" x2="386.50" y2="74.28" stroke="#999" stroke-width="0.8"/>
<text x="381.10" y="76.28" font-family="Liberation Sans" font-size="6.0" fill="#a2a2a2" text-anchor="end" font-weight="normal">2.5</text>
<line x1="384.10" y1="58.61" x2="386.50" y2="58.61" stroke="#999" stroke-width="0.8"/>
<text x="381.10" y="60.61" font-family="Liberation Sans" font-size="6.0" fill="#a2a2a2" text-anchor="end" font-weight="normal">3.0</text>
<line x1="384.10" y1="42.94" x2="386.50" y2="42.94" stroke="#999" stroke-width="0.8"/>
<text x="381.10" y="44.94" font-family="Liberation Sans" font-size="6.0" fill="#a2a2a2" text-anchor="end" font-weight="normal">3.5</text>
<line x1="384.10" y1="27.28" x2="386.50" y2="27.28" stroke="#999" stroke-width="0.8"/>
<text x="381.10" y="29.28" font-family="Liberation Sans" font-size="6.0" fill="#a2a2a2" text-anchor="end" font-weight="normal">4.0</text>
<line x1="386.50" y1="152.70" x2="386.50" y2="154.70" stroke="#999" stroke-width="0.8"/>
<text x="386.50" y="162.10" font-family="Liberation Sans" font-size="6.0" fill="#a2a2a2" text-anchor="middle" font-weight="normal">0</text>
<line x1="448.20" y1="152.70" x2="448.20" y2="154.70" stroke="#999" stroke-width="0.8"/>
<text x="448.20" y="162.10" font-family="Liberation Sans" font-size="6.0" fill="#a2a2a2" text-anchor="middle" font-weight="normal">50</text>
<line x1="509.90" y1="152.70" x2="509.90" y2="154.70" stroke="#999" stroke-width="0.8"/>
<text x="509.90" y="162.10" font-family="Liberation Sans" font-size="6.0" fill="#a2a2a2" text-anchor="middle" font-weight="normal">100</text>
<line x1="571.60" y1="152.70" x2="571.60" y2="154.70" stroke="#999" stroke-width="0.8"/>
<text x="571.60" y="162.10" font-family="Liberation Sans" font-size="6.0" fill="#a2a2a2" text-anchor="middle" font-weight="normal">150</text>
<line x1="633.30" y1="152.70" x2="633.30" y2="154.70" stroke="#999" stroke-width="0.8"/>
<text x="633.30" y="162.10" font-family="Liberation Sans" font-size="6.0" fill="#a2a2a2" text-anchor="middle" font-weight="normal">200</text>
<text x="368.30" y="87.20" font-family="Liberation Sans" font-size="9.8" fill="#8a8a8a" text-anchor="middle" font-weight="normal" transform="rotate(-90 368.30 87.20)" textLength="38.30" lengthAdjust="spacingAndGlyphs">RMSF (<tspan font-style="italic">Å</tspan>)</text>
<text x="532.75" y="172.30" font-family="Liberation Sans" font-size="8.8" fill="#8a8a8a" text-anchor="middle" font-weight="normal" textLength="62.70" lengthAdjust="spacingAndGlyphs">Residue Index</text>
<text x="519.35" y="10.80" font-family="Liberation Sans" font-size="10.5" fill="#111" text-anchor="middle" font-weight="bold" textLength="70.90" lengthAdjust="spacingAndGlyphs">Protein RMSF</text>
<rect x="521.70" y="180.90" width="25.50" height="10.00" rx="1.6" fill="#b8b8b8"/>
<rect x="520.50" y="179.50" width="25.50" height="10.00" rx="1.6" fill="#fff" stroke="#d4d4d4" stroke-width="0.7"/>
<rect x="518.90" y="182.10" width="14.10" height="4.70" fill="#456f8c"/>
<text x="533.10" y="186.80" font-family="Liberation Sans" font-size="8.4" fill="#111" textLength="9.80" lengthAdjust="spacingAndGlyphs">C<tspan font-style="italic">α</tspan></text>
<text x="343.60" y="27.10" font-family="Liberation Serif" font-size="15" fill="#000" text-anchor="start" font-weight="bold" textLength="20.80" lengthAdjust="spacingAndGlyphs">(B)</text>
<rect x="380.74" y="498.20" width="14.19" height="120.00" fill="#fbded9"/>
<rect x="404.16" y="498.20" width="11.71" height="120.00" fill="#fbded9"/>
<rect x="450.10" y="498.20" width="7.66" height="120.00" fill="#fbded9"/>
<rect x="491.87" y="498.20" width="9.91" height="120.00" fill="#fbded9"/>
<rect x="539.17" y="498.20" width="24.66" height="120.00" fill="#fbded9"/>
<rect x="579.93" y="498.20" width="12.05" height="120.00" fill="#fbded9"/>
<rect x="596.82" y="498.20" width="7.21" height="120.00" fill="#fbded9"/>
<rect x="608.87" y="498.20" width="15.88" height="120.00" fill="#fbded9"/>
<rect x="630.48" y="498.20" width="11.15" height="120.00" fill="#fbded9"/>
<rect x="420.94" y="498.20" width="7.77" height="120.00" fill="#d6eef5"/>
<rect x="438.95" y="498.20" width="5.63" height="120.00" fill="#d6eef5"/>
<rect x="478.25" y="498.20" width="3.60" height="120.00" fill="#d6eef5"/>
<rect x="507.07" y="498.20" width="8.67" height="120.00" fill="#d6eef5"/>
<rect x="521.04" y="498.20" width="8.67" height="120.00" fill="#d6eef5"/>
<line x1="424.20" y1="618.20" x2="424.20" y2="600.92" stroke="#228b22" stroke-width="1.3"/>
<line x1="424.99" y1="618.20" x2="424.99" y2="599.42" stroke="#228b22" stroke-width="1.3"/>
<line x1="425.78" y1="618.20" x2="425.78" y2="597.78" stroke="#228b22" stroke-width="1.3"/>
<line x1="426.57" y1="618.20" x2="426.57" y2="595.82" stroke="#228b22" stroke-width="1.3"/>
<line x1="442.67" y1="618.20" x2="442.67" y2="593.31" stroke="#228b22" stroke-width="1.3"/>
<line x1="443.68" y1="618.20" x2="443.68" y2="593.31" stroke="#228b22" stroke-width="1.3"/>
<line x1="446.38" y1="618.20" x2="446.38" y2="592.72" stroke="#228b22" stroke-width="1.3"/>
<line x1="451.45" y1="618.20" x2="451.45" y2="586.03" stroke="#228b22" stroke-width="1.3"/>
<line x1="452.46" y1="618.20" x2="452.46" y2="582.55" stroke="#228b22" stroke-width="1.3"/>
<line x1="455.95" y1="618.20" x2="455.95" y2="582.40" stroke="#228b22" stroke-width="1.3"/>
<line x1="456.97" y1="618.20" x2="456.97" y2="577.47" stroke="#228b22" stroke-width="1.3"/>
<line x1="465.53" y1="618.20" x2="465.53" y2="586.16" stroke="#228b22" stroke-width="1.3"/>
<line x1="466.54" y1="618.20" x2="466.54" y2="589.76" stroke="#228b22" stroke-width="1.3"/>
<line x1="468.79" y1="618.20" x2="468.79" y2="593.31" stroke="#228b22" stroke-width="1.3"/>
<line x1="482.87" y1="618.20" x2="482.87" y2="588.51" stroke="#228b22" stroke-width="1.3"/>
<line x1="488.27" y1="618.20" x2="488.27" y2="581.28" stroke="#228b22" stroke-width="1.3"/>
<line x1="494.80" y1="618.20" x2="494.80" y2="586.87" stroke="#228b22" stroke-width="1.3"/>
<line x1="495.93" y1="618.20" x2="495.93" y2="588.87" stroke="#228b22" stroke-width="1.3"/>
<line x1="499.53" y1="618.20" x2="499.53" y2="588.51" stroke="#228b22" stroke-width="1.3"/>
<line x1="505.39" y1="618.20" x2="505.39" y2="587.90" stroke="#228b22" stroke-width="1.3"/>
<line x1="510.68" y1="618.20" x2="510.68" y2="600.58" stroke="#228b22" stroke-width="1.3"/>
<line x1="524.42" y1="618.20" x2="524.42" y2="599.07" stroke="#228b22" stroke-width="1.3"/>
<line x1="526.22" y1="618.20" x2="526.22" y2="602.24" stroke="#228b22" stroke-width="1.3"/>
<polyline points="380.4,542.7 380.7,542.7 381.4,542.7 382.1,576.0 382.9,573.2 383.9,570.1 384.8,568.7 385.8,580.2 386.8,581.8 387.9,578.2 389.1,583.2 390.1,588.8 391.1,584.6 392.2,581.0 393.7,583.2 395.2,584.6 396.6,573.2 397.6,572.3 398.5,579.6 399.5,570.9 400.7,573.7 401.8,573.2 403.1,573.7 404.6,583.2 405.6,591.9 407.1,590.5 408.5,590.5 409.9,590.5 411.0,590.5 412.3,593.3 413.3,591.9 414.3,596.9 415.8,590.5 416.9,589.7 418.3,588.8 419.8,593.9 421.2,596.1 422.6,599.7 424.1,601.1 425.6,598.3 427.0,594.7 428.5,590.5 429.9,586.0 431.3,584.6 432.8,585.2 434.0,578.8 435.0,573.2 435.7,565.9 436.8,570.1 437.8,581.8 439.3,584.6 440.8,588.8 442.2,593.3 443.7,593.3 444.8,596.1 445.8,597.5 447.2,586.0 448.6,581.8 450.1,581.0 451.5,586.0 452.9,581.0 454.3,582.4 455.4,586.0 456.5,578.8 458.0,574.6 459.4,577.4 460.9,580.2 462.0,584.6 463.5,578.8 464.5,580.2 466.0,588.8 467.3,591.1 468.8,593.3 470.3,584.6 471.7,576.0 473.2,570.1 474.3,573.2 475.0,580.2 476.0,576.0 477.0,575.1 478.2,583.2 479.6,590.5 481.1,592.5 482.5,590.5 484.0,581.8 485.5,577.4 486.6,581.8 487.6,584.6 489.1,577.4 490.5,576.5 491.5,581.8 492.7,582.4 494.1,583.2 495.5,590.5 496.9,585.2 498.4,587.4 499.9,588.8 501.3,583.2 502.8,581.0 504.3,583.2 505.6,588.8 507.1,593.3 509.2,598.3 510.7,600.6 512.1,596.1 514.3,590.5 516.4,587.4 517.9,585.2 519.3,586.9 521.5,590.5 523.6,597.5 525.9,602.0 527.7,603.4 529.5,594.7 530.8,584.6 532.3,573.2 533.4,559.5 534.4,570.1 535.6,580.2 536.7,576.5 538.2,574.6 539.2,570.1 540.3,578.8 541.4,586.0 542.8,582.4 543.9,584.6 545.4,588.8 547.0,591.1 548.5,594.7 549.6,596.9 551.1,593.3 552.2,594.7 553.2,596.1 554.7,592.5 556.2,593.3 557.6,591.9 559.0,587.4 560.4,588.3 561.9,586.0 563.4,580.2 564.8,583.2 566.2,586.0 567.7,587.4 569.1,586.9 570.6,588.8 572.0,581.8 573.5,573.7 574.5,580.2 575.6,583.8 576.8,577.4 577.8,576.0 579.3,566.5 580.7,558.6 581.7,565.9 582.9,581.8 584.3,578.2 585.8,586.0 587.1,588.8 588.6,581.8 590.1,583.2 591.1,586.0 592.2,576.0 593.7,570.1 595.1,573.7 596.3,577.4 597.3,578.2 598.7,568.1 599.7,570.1 600.9,575.1 602.0,565.9 603.0,558.6 604.5,558.6 605.6,552.8 606.6,545.8 607.6,552.8 608.9,556.7 610.0,564.5 611.0,560.0 612.1,565.9 613.1,573.7 614.3,576.0 615.6,570.9 616.7,580.2 617.9,587.4 619.3,581.0 620.4,583.2 621.5,591.9 622.8,586.0 624.0,581.8 625.1,586.9 626.1,590.5 627.1,583.2 628.3,582.4 629.5,571.8 630.5,578.8 631.5,586.0 633.0,586.9 633.8,590.5 634.8,594.7 635.8,593.3 636.7,588.8 637.7,590.5 639.2,592.5 640.6,583.2 642.0,581.8 643.0,583.2 644.2,575.1 645.3,577.4 646.4,567.3 647.0,541.3 647.8,529.0" fill="none" stroke="#456f8c" stroke-width="1.1" stroke-linejoin="round"/>
<line x1="380.40" y1="498.20" x2="648.60" y2="498.20" stroke="#d8d8d8" stroke-width="1"/>
<line x1="648.60" y1="498.20" x2="648.60" y2="618.20" stroke="#d8d8d8" stroke-width="1"/>
<line x1="380.40" y1="618.20" x2="648.60" y2="618.20" stroke="#d8d8d8" stroke-width="1"/>
<line x1="380.40" y1="497.70" x2="380.40" y2="618.70" stroke="#9a9a9a" stroke-width="1"/>
<line x1="378.00" y1="604.22" x2="380.40" y2="604.22" stroke="#999" stroke-width="0.8"/>
<text x="376.00" y="606.22" font-family="Liberation Sans" font-size="5.9" fill="#a2a2a2" text-anchor="end" font-weight="normal">0.5</text>
<line x1="378.00" y1="590.23" x2="380.40" y2="590.23" stroke="#999" stroke-width="0.8"/>
<text x="376.00" y="592.23" font-family="Liberation Sans" font-size="5.9" fill="#a2a2a2" text-anchor="end" font-weight="normal">1.0</text>
<line x1="378.00" y1="576.25" x2="380.40" y2="576.25" stroke="#999" stroke-width="0.8"/>
<text x="376.00" y="578.25" font-family="Liberation Sans" font-size="5.9" fill="#a2a2a2" text-anchor="end" font-weight="normal">1.5</text>
<line x1="378.00" y1="562.26" x2="380.40" y2="562.26" stroke="#999" stroke-width="0.8"/>
<text x="376.00" y="564.26" font-family="Liberation Sans" font-size="5.9" fill="#a2a2a2" text-anchor="end" font-weight="normal">2.0</text>
<line x1="378.00" y1="548.28" x2="380.40" y2="548.28" stroke="#999" stroke-width="0.8"/>
<text x="376.00" y="550.28" font-family="Liberation Sans" font-size="5.9" fill="#a2a2a2" text-anchor="end" font-weight="normal">2.5</text>
<line x1="378.00" y1="534.29" x2="380.40" y2="534.29" stroke="#999" stroke-width="0.8"/>
<text x="376.00" y="536.29" font-family="Liberation Sans" font-size="5.9" fill="#a2a2a2" text-anchor="end" font-weight="normal">3.0</text>
<line x1="378.00" y1="520.31" x2="380.40" y2="520.31" stroke="#999" stroke-width="0.8"/>
<text x="376.00" y="522.31" font-family="Liberation Sans" font-size="5.9" fill="#a2a2a2" text-anchor="end" font-weight="normal">3.5</text>
<line x1="378.00" y1="506.32" x2="380.40" y2="506.32" stroke="#999" stroke-width="0.8"/>
<text x="376.00" y="508.32" font-family="Liberation Sans" font-size="5.9" fill="#a2a2a2" text-anchor="end" font-weight="normal">4.0</text>
<line x1="380.40" y1="618.20" x2="380.40" y2="620.20" stroke="#999" stroke-width="0.8"/>
<text x="380.40" y="626.90" font-family="Liberation Sans" font-size="5.9" fill="#a2a2a2" text-anchor="middle" font-weight="normal">0</text>
<line x1="436.70" y1="618.20" x2="436.70" y2="620.20" stroke="#999" stroke-width="0.8"/>
<text x="436.70" y="626.90" font-family="Liberation Sans" font-size="5.9" fill="#a2a2a2" text-anchor="middle" font-weight="normal">50</text>
<line x1="493.00" y1="618.20" x2="493.00" y2="620.20" stroke="#999" stroke-width="0.8"/>
<text x="493.00" y="626.90" font-family="Liberation Sans" font-size="5.9" fill="#a2a2a2" text-anchor="middle" font-weight="normal">100</text>
<line x1="549.30" y1="618.20" x2="549.30" y2="620.20" stroke="#999" stroke-width="0.8"/>
<text x="549.30" y="626.90" font-family="Liberation Sans" font-size="5.9" fill="#a2a2a2" text-anchor="middle" font-weight="normal">150</text>
<line x1="605.60" y1="618.20" x2="605.60" y2="620.20" stroke="#999" stroke-width="0.8"/>
<text x="605.60" y="626.90" font-family="Liberation Sans" font-size="5.9" fill="#a2a2a2" text-anchor="middle" font-weight="normal">200</text>
<text x="364.00" y="558.00" font-family="Liberation Sans" font-size="9.4" fill="#8a8a8a" text-anchor="middle" font-weight="normal" transform="rotate(-90 364.00 558.00)" textLength="34.70" lengthAdjust="spacingAndGlyphs">RMSF (<tspan font-style="italic">Å</tspan>)</text>
<text x="514.40" y="635.80" font-family="Liberation Sans" font-size="8.0" fill="#8a8a8a" text-anchor="middle" font-weight="normal" textLength="57.60" lengthAdjust="spacingAndGlyphs">Residue Index</text>
<text x="502.10" y="487.90" font-family="Liberation Sans" font-size="9.6" fill="#111" text-anchor="middle" font-weight="bold" textLength="65.00" lengthAdjust="spacingAndGlyphs">Protein RMSF</text>
<rect x="504.20" y="643.10" width="23.50" height="10.00" rx="1.6" fill="#b8b8b8"/>
<rect x="503.00" y="641.70" width="23.50" height="10.00" rx="1.6" fill="#fff" stroke="#d4d4d4" stroke-width="0.7"/>
<rect x="502.00" y="644.30" width="12.20" height="4.30" fill="#456f8c"/>
<text x="514.30" y="648.60" font-family="Liberation Sans" font-size="7.9" fill="#111" textLength="9.40" lengthAdjust="spacingAndGlyphs">C<tspan font-style="italic">α</tspan></text>
<text x="352.20" y="471.90" font-family="Liberation Serif" font-size="15" fill="#000" text-anchor="start" font-weight="bold" textLength="21.10" lengthAdjust="spacingAndGlyphs">(E)</text>
<rect x="198.15" y="384.03" width="15.30" height="13.67" fill="#beaed4"/>
<rect x="217.43" y="381.30" width="15.30" height="16.40" fill="#beaed4"/>
<rect x="236.71" y="261.00" width="15.30" height="136.70" fill="#7fc97f"/>
<rect x="255.99" y="263.05" width="15.30" height="134.65" fill="#7fc97f"/>
<rect x="275.27" y="392.23" width="15.30" height="5.47" fill="#386cb0"/>
<rect x="294.55" y="394.97" width="15.30" height="2.73" fill="#beaed4"/>
<rect x="313.83" y="261.00" width="15.30" height="136.70" fill="#7fc97f"/>
<rect x="333.11" y="385.40" width="15.30" height="12.30" fill="#386cb0"/>
<rect x="352.39" y="364.89" width="15.30" height="32.81" fill="#beaed4"/>
<rect x="371.67" y="368.99" width="15.30" height="28.71" fill="#beaed4"/>
<rect x="371.67" y="359.42" width="15.30" height="9.57" fill="#386cb0"/>
<rect x="390.95" y="364.89" width="15.30" height="32.81" fill="#beaed4"/>
<rect x="410.23" y="384.71" width="15.30" height="12.99" fill="#beaed4"/>
<rect x="448.79" y="394.97" width="15.30" height="2.73" fill="#beaed4"/>
<rect x="468.07" y="397.02" width="15.30" height="0.68" fill="#beaed4"/>
<rect x="487.35" y="362.16" width="15.30" height="35.54" fill="#7fc97f"/>
<rect x="487.35" y="350.54" width="15.30" height="11.62" fill="#386cb0"/>
<line x1="194.20" y1="261.00" x2="521.90" y2="261.00" stroke="#d8d8d8" stroke-width="1.1"/>
<line x1="521.90" y1="261.00" x2="521.90" y2="397.70" stroke="#d8d8d8" stroke-width="1.1"/>
<line x1="193.70" y1="397.70" x2="521.90" y2="397.70" stroke="#b8b8b8" stroke-width="1.1"/>
<line x1="194.20" y1="260.50" x2="194.20" y2="397.70" stroke="#a8a8a8" stroke-width="1.1"/>
<line x1="191.20" y1="397.70" x2="194.20" y2="397.70" stroke="#999" stroke-width="0.8"/>
<text x="189.30" y="399.70" font-family="Liberation Sans" font-size="6.0" fill="#a2a2a2" text-anchor="end" font-weight="normal">0.0</text>
<line x1="191.20" y1="370.36" x2="194.20" y2="370.36" stroke="#999" stroke-width="0.8"/>
<text x="189.30" y="372.36" font-family="Liberation Sans" font-size="6.0" fill="#a2a2a2" text-anchor="end" font-weight="normal">0.2</text>
<line x1="191.20" y1="343.02" x2="194.20" y2="343.02" stroke="#999" stroke-width="0.8"/>
<text x="189.30" y="345.02" font-family="Liberation Sans" font-size="6.0" fill="#a2a2a2" text-anchor="end" font-weight="normal">0.4</text>
<line x1="191.20" y1="315.68" x2="194.20" y2="315.68" stroke="#999" stroke-width="0.8"/>
<text x="189.30" y="317.68" font-family="Liberation Sans" font-size="6.0" fill="#a2a2a2" text-anchor="end" font-weight="normal">0.6</text>
<line x1="191.20" y1="288.34" x2="194.20" y2="288.34" stroke="#999" stroke-width="0.8"/>
<text x="189.30" y="290.34" font-family="Liberation Sans" font-size="6.0" fill="#a2a2a2" text-anchor="end" font-weight="normal">0.8</text>
<line x1="191.20" y1="261.00" x2="194.20" y2="261.00" stroke="#999" stroke-width="0.8"/>
<text x="189.30" y="263.00" font-family="Liberation Sans" font-size="6.0" fill="#a2a2a2" text-anchor="end" font-weight="normal">1.0</text>
<line x1="213.45" y1="397.70" x2="213.45" y2="400.30" stroke="#a0a0a0" stroke-width="0.8"/>
<text x="216.35" y="407.20" font-family="Liberation Sans" font-size="6.3" fill="#333" text-anchor="end" font-weight="normal" transform="rotate(-45 216.35 407.20)">ALA_44</text>
<line x1="232.73" y1="397.70" x2="232.73" y2="400.30" stroke="#a0a0a0" stroke-width="0.8"/>
<text x="235.63" y="407.20" font-family="Liberation Sans" font-size="6.3" fill="#333" text-anchor="end" font-weight="normal" transform="rotate(-45 235.63 407.20)">CYS_46</text>
<line x1="252.01" y1="397.70" x2="252.01" y2="400.30" stroke="#a0a0a0" stroke-width="0.8"/>
<text x="254.91" y="407.20" font-family="Liberation Sans" font-size="6.3" fill="#333" text-anchor="end" font-weight="normal" transform="rotate(-45 254.91 407.20)">TYR_64</text>
<line x1="271.29" y1="397.70" x2="271.29" y2="400.30" stroke="#a0a0a0" stroke-width="0.8"/>
<text x="274.19" y="407.20" font-family="Liberation Sans" font-size="6.3" fill="#333" text-anchor="end" font-weight="normal" transform="rotate(-45 274.19 407.20)">TRP_68</text>
<line x1="290.57" y1="397.70" x2="290.57" y2="400.30" stroke="#a0a0a0" stroke-width="0.8"/>
<text x="293.47" y="407.20" font-family="Liberation Sans" font-size="6.3" fill="#333" text-anchor="end" font-weight="normal" transform="rotate(-45 293.47 407.20)">GLN_69</text>
<line x1="309.85" y1="397.70" x2="309.85" y2="400.30" stroke="#a0a0a0" stroke-width="0.8"/>
<text x="312.75" y="407.20" font-family="Liberation Sans" font-size="6.3" fill="#333" text-anchor="end" font-weight="normal" transform="rotate(-45 312.75 407.20)">TYR_72</text>
<line x1="329.13" y1="397.70" x2="329.13" y2="400.30" stroke="#a0a0a0" stroke-width="0.8"/>
<text x="332.03" y="407.20" font-family="Liberation Sans" font-size="6.3" fill="#333" text-anchor="end" font-weight="normal" transform="rotate(-45 332.03 407.20)">ASP_81</text>
<line x1="348.41" y1="397.70" x2="348.41" y2="400.30" stroke="#a0a0a0" stroke-width="0.8"/>
<text x="351.31" y="407.20" font-family="Liberation Sans" font-size="6.3" fill="#333" text-anchor="end" font-weight="normal" transform="rotate(-45 351.31 407.20)">THR_83</text>
<line x1="367.69" y1="397.70" x2="367.69" y2="400.30" stroke="#a0a0a0" stroke-width="0.8"/>
<text x="370.59" y="407.20" font-family="Liberation Sans" font-size="6.3" fill="#333" text-anchor="end" font-weight="normal" transform="rotate(-45 370.59 407.20)">ILE_84</text>
<line x1="386.97" y1="397.70" x2="386.97" y2="400.30" stroke="#a0a0a0" stroke-width="0.8"/>
<text x="389.87" y="407.20" font-family="Liberation Sans" font-size="6.3" fill="#333" text-anchor="end" font-weight="normal" transform="rotate(-45 389.87 407.20)">TRP_96</text>
<line x1="406.25" y1="397.70" x2="406.25" y2="400.30" stroke="#a0a0a0" stroke-width="0.8"/>
<text x="409.15" y="407.20" font-family="Liberation Sans" font-size="6.3" fill="#333" text-anchor="end" font-weight="normal" transform="rotate(-45 409.15 407.20)">PHE_101</text>
<line x1="425.53" y1="397.70" x2="425.53" y2="400.30" stroke="#a0a0a0" stroke-width="0.8"/>
<text x="428.43" y="407.20" font-family="Liberation Sans" font-size="6.3" fill="#333" text-anchor="end" font-weight="normal" transform="rotate(-45 428.43 407.20)">LEU_107</text>
<line x1="444.81" y1="397.70" x2="444.81" y2="400.30" stroke="#a0a0a0" stroke-width="0.8"/>
<text x="447.71" y="407.20" font-family="Liberation Sans" font-size="6.3" fill="#333" text-anchor="end" font-weight="normal" transform="rotate(-45 447.71 407.20)">TRP_108</text>
<line x1="464.09" y1="397.70" x2="464.09" y2="400.30" stroke="#a0a0a0" stroke-width="0.8"/>
<text x="466.99" y="407.20" font-family="Liberation Sans" font-size="6.3" fill="#333" text-anchor="end" font-weight="normal" transform="rotate(-45 466.99 407.20)">ALA_111</text>
<line x1="483.37" y1="397.70" x2="483.37" y2="400.30" stroke="#a0a0a0" stroke-width="0.8"/>
<text x="486.27" y="407.20" font-family="Liberation Sans" font-size="6.3" fill="#333" text-anchor="end" font-weight="normal" transform="rotate(-45 486.27 407.20)">LEU_116</text>
<line x1="502.65" y1="397.70" x2="502.65" y2="400.30" stroke="#a0a0a0" stroke-width="0.8"/>
<text x="505.55" y="407.20" font-family="Liberation Sans" font-size="6.3" fill="#333" text-anchor="end" font-weight="normal" transform="rotate(-45 505.55 407.20)">SER_135</text>
<text x="177.20" y="329.55" font-family="Liberation Sans" font-size="9.8" fill="#8a8a8a" text-anchor="middle" font-weight="normal" transform="rotate(-90 177.20 329.55)" textLength="105.70" lengthAdjust="spacingAndGlyphs">Interactions Fraction</text>
<text x="341.50" y="243.50" font-family="Liberation Sans" font-size="11.8" fill="#111" text-anchor="middle" font-weight="bold" textLength="141.40" lengthAdjust="spacingAndGlyphs">Protein-Ligand Contacts</text>
<rect x="251.70" y="439.80" width="215.50" height="13.50" rx="1.6" fill="#b8b8b8"/>
<rect x="250.50" y="438.40" width="215.50" height="13.50" rx="1.6" fill="#fff" stroke="#d4d4d4" stroke-width="0.7"/>
<rect x="252.20" y="441.90" width="7.90" height="5.90" fill="#7fc97f"/>
<text x="262.50" y="447.80" font-family="Liberation Sans" font-size="8.8" fill="#222" text-anchor="start" font-weight="normal" textLength="33.30" lengthAdjust="spacingAndGlyphs">H-bonds</text>
<rect x="299.30" y="441.90" width="7.90" height="5.90" fill="#beaed4"/>
<text x="309.60" y="447.80" font-family="Liberation Sans" font-size="8.8" fill="#222" text-anchor="start" font-weight="normal" textLength="50.80" lengthAdjust="spacingAndGlyphs">Hydrophobic</text>
<rect x="364.40" y="441.90" width="7.90" height="5.90" fill="#f0027f"/>
<text x="374.40" y="447.80" font-family="Liberation Sans" font-size="8.8" fill="#222" text-anchor="start" font-weight="normal" textLength="18.20" lengthAdjust="spacingAndGlyphs">Ionic</text>
<rect x="396.60" y="441.90" width="7.90" height="5.90" fill="#386cb0"/>
<text x="406.40" y="447.80" font-family="Liberation Sans" font-size="8.8" fill="#222" text-anchor="start" font-weight="normal" textLength="56.60" lengthAdjust="spacingAndGlyphs">Water bridges</text>
<text x="4.80" y="216.70" font-family="Liberation Serif" font-size="15" fill="#000" text-anchor="start" font-weight="bold" textLength="21.20" lengthAdjust="spacingAndGlyphs">(C)</text>
<rect x="219.85" y="820.11" width="10.30" height="29.99" fill="#7fc97f"/>
<rect x="219.85" y="810.47" width="10.30" height="9.64" fill="#beaed4"/>
<rect x="232.77" y="836.18" width="10.30" height="13.92" fill="#7fc97f"/>
<rect x="232.77" y="834.04" width="10.30" height="2.14" fill="#386cb0"/>
<rect x="245.69" y="847.10" width="10.30" height="3.00" fill="#beaed4"/>
<rect x="245.69" y="846.03" width="10.30" height="1.07" fill="#386cb0"/>
<rect x="258.61" y="845.28" width="10.30" height="4.82" fill="#beaed4"/>
<rect x="271.53" y="847.96" width="10.30" height="2.14" fill="#7fc97f"/>
<rect x="271.53" y="845.28" width="10.30" height="2.68" fill="#386cb0"/>
<rect x="284.45" y="763.03" width="10.30" height="87.07" fill="#7fc97f"/>
<rect x="284.45" y="736.04" width="10.30" height="26.99" fill="#beaed4"/>
<rect x="284.45" y="732.29" width="10.30" height="3.75" fill="#386cb0"/>
<rect x="297.37" y="792.27" width="10.30" height="57.83" fill="#7fc97f"/>
<rect x="297.37" y="738.72" width="10.30" height="53.55" fill="#386cb0"/>
<rect x="310.29" y="813.90" width="10.30" height="36.20" fill="#7fc97f"/>
<rect x="310.29" y="806.19" width="10.30" height="7.71" fill="#386cb0"/>
<rect x="323.21" y="768.92" width="10.30" height="81.18" fill="#beaed4"/>
<rect x="323.21" y="765.49" width="10.30" height="3.43" fill="#386cb0"/>
<rect x="336.13" y="849.56" width="10.30" height="0.54" fill="#beaed4"/>
<rect x="349.05" y="849.78" width="10.30" height="0.32" fill="#beaed4"/>
<rect x="361.97" y="821.18" width="10.30" height="28.92" fill="#386cb0"/>
<rect x="374.89" y="836.50" width="10.30" height="13.60" fill="#beaed4"/>
<rect x="387.81" y="812.62" width="10.30" height="37.48" fill="#beaed4"/>
<rect x="387.81" y="793.98" width="10.30" height="18.64" fill="#386cb0"/>
<rect x="400.73" y="832.96" width="10.30" height="17.14" fill="#beaed4"/>
<rect x="413.65" y="842.39" width="10.30" height="7.71" fill="#beaed4"/>
<rect x="426.57" y="849.56" width="10.30" height="0.54" fill="#beaed4"/>
<rect x="439.49" y="846.78" width="10.30" height="3.32" fill="#beaed4"/>
<rect x="452.41" y="847.96" width="10.30" height="2.14" fill="#7fc97f"/>
<rect x="452.41" y="842.07" width="10.30" height="5.89" fill="#beaed4"/>
<rect x="465.33" y="849.78" width="10.30" height="0.32" fill="#beaed4"/>
<rect x="478.25" y="813.90" width="10.30" height="36.20" fill="#7fc97f"/>
<rect x="491.17" y="846.89" width="10.30" height="3.21" fill="#7fc97f"/>
<rect x="491.17" y="814.76" width="10.30" height="32.13" fill="#386cb0"/>
<line x1="217.60" y1="725.70" x2="514.60" y2="725.70" stroke="#d8d8d8" stroke-width="1.1"/>
<line x1="514.60" y1="725.70" x2="514.60" y2="850.10" stroke="#d8d8d8" stroke-width="1.1"/>
<line x1="217.10" y1="850.10" x2="514.60" y2="850.10" stroke="#b8b8b8" stroke-width="1.1"/>
<line x1="217.60" y1="725.20" x2="217.60" y2="850.10" stroke="#a8a8a8" stroke-width="1.1"/>
<line x1="214.60" y1="850.10" x2="217.60" y2="850.10" stroke="#999" stroke-width="0.8"/>
<text x="213.20" y="852.10" font-family="Liberation Sans" font-size="5.9" fill="#a2a2a2" text-anchor="end" font-weight="normal">0.0</text>
<line x1="214.60" y1="828.68" x2="217.60" y2="828.68" stroke="#999" stroke-width="0.8"/>
<text x="213.20" y="830.68" font-family="Liberation Sans" font-size="5.9" fill="#a2a2a2" text-anchor="end" font-weight="normal">0.2</text>
<line x1="214.60" y1="807.26" x2="217.60" y2="807.26" stroke="#999" stroke-width="0.8"/>
<text x="213.20" y="809.26" font-family="Liberation Sans" font-size="5.9" fill="#a2a2a2" text-anchor="end" font-weight="normal">0.4</text>
<line x1="214.60" y1="785.84" x2="217.60" y2="785.84" stroke="#999" stroke-width="0.8"/>
<text x="213.20" y="787.84" font-family="Liberation Sans" font-size="5.9" fill="#a2a2a2" text-anchor="end" font-weight="normal">0.6</text>
<line x1="214.60" y1="764.42" x2="217.60" y2="764.42" stroke="#999" stroke-width="0.8"/>
<text x="213.20" y="766.42" font-family="Liberation Sans" font-size="5.9" fill="#a2a2a2" text-anchor="end" font-weight="normal">0.8</text>
<line x1="214.60" y1="743.00" x2="217.60" y2="743.00" stroke="#999" stroke-width="0.8"/>
<text x="213.20" y="745.00" font-family="Liberation Sans" font-size="5.9" fill="#a2a2a2" text-anchor="end" font-weight="normal">1.0</text>
<line x1="230.15" y1="850.10" x2="230.15" y2="852.70" stroke="#a0a0a0" stroke-width="0.8"/>
<text x="232.55" y="859.20" font-family="Liberation Sans" font-size="5.6" fill="#333" text-anchor="end" font-weight="normal" transform="rotate(-45 232.55 859.20)">ALA_44</text>
<line x1="243.07" y1="850.10" x2="243.07" y2="852.70" stroke="#a0a0a0" stroke-width="0.8"/>
<text x="245.47" y="859.20" font-family="Liberation Sans" font-size="5.6" fill="#333" text-anchor="end" font-weight="normal" transform="rotate(-45 245.47 859.20)">TYR_45</text>
<line x1="255.99" y1="850.10" x2="255.99" y2="852.70" stroke="#a0a0a0" stroke-width="0.8"/>
<text x="258.39" y="859.20" font-family="Liberation Sans" font-size="5.6" fill="#333" text-anchor="end" font-weight="normal" transform="rotate(-45 258.39 859.20)">CYS_46</text>
<line x1="268.91" y1="850.10" x2="268.91" y2="852.70" stroke="#a0a0a0" stroke-width="0.8"/>
<text x="271.31" y="859.20" font-family="Liberation Sans" font-size="5.6" fill="#333" text-anchor="end" font-weight="normal" transform="rotate(-45 271.31 859.20)">MET_60</text>
<line x1="281.83" y1="850.10" x2="281.83" y2="852.70" stroke="#a0a0a0" stroke-width="0.8"/>
<text x="284.23" y="859.20" font-family="Liberation Sans" font-size="5.6" fill="#333" text-anchor="end" font-weight="normal" transform="rotate(-45 284.23 859.20)">PHE_61</text>
<line x1="294.75" y1="850.10" x2="294.75" y2="852.70" stroke="#a0a0a0" stroke-width="0.8"/>
<text x="297.15" y="859.20" font-family="Liberation Sans" font-size="5.6" fill="#333" text-anchor="end" font-weight="normal" transform="rotate(-45 297.15 859.20)">TYR_64</text>
<line x1="307.67" y1="850.10" x2="307.67" y2="852.70" stroke="#a0a0a0" stroke-width="0.8"/>
<text x="310.07" y="859.20" font-family="Liberation Sans" font-size="5.6" fill="#333" text-anchor="end" font-weight="normal" transform="rotate(-45 310.07 859.20)">TRP_68</text>
<line x1="320.59" y1="850.10" x2="320.59" y2="852.70" stroke="#a0a0a0" stroke-width="0.8"/>
<text x="322.99" y="859.20" font-family="Liberation Sans" font-size="5.6" fill="#333" text-anchor="end" font-weight="normal" transform="rotate(-45 322.99 859.20)">GLN_69</text>
<line x1="333.51" y1="850.10" x2="333.51" y2="852.70" stroke="#a0a0a0" stroke-width="0.8"/>
<text x="335.91" y="859.20" font-family="Liberation Sans" font-size="5.6" fill="#333" text-anchor="end" font-weight="normal" transform="rotate(-45 335.91 859.20)">TYR_72</text>
<line x1="346.43" y1="850.10" x2="346.43" y2="852.70" stroke="#a0a0a0" stroke-width="0.8"/>
<text x="348.83" y="859.20" font-family="Liberation Sans" font-size="5.6" fill="#333" text-anchor="end" font-weight="normal" transform="rotate(-45 348.83 859.20)">GLN_73</text>
<line x1="359.35" y1="850.10" x2="359.35" y2="852.70" stroke="#a0a0a0" stroke-width="0.8"/>
<text x="361.75" y="859.20" font-family="Liberation Sans" font-size="5.6" fill="#333" text-anchor="end" font-weight="normal" transform="rotate(-45 361.75 859.20)">ASP_81</text>
<line x1="372.27" y1="850.10" x2="372.27" y2="852.70" stroke="#a0a0a0" stroke-width="0.8"/>
<text x="374.67" y="859.20" font-family="Liberation Sans" font-size="5.6" fill="#333" text-anchor="end" font-weight="normal" transform="rotate(-45 374.67 859.20)">THR_83</text>
<line x1="385.19" y1="850.10" x2="385.19" y2="852.70" stroke="#a0a0a0" stroke-width="0.8"/>
<text x="387.59" y="859.20" font-family="Liberation Sans" font-size="5.6" fill="#333" text-anchor="end" font-weight="normal" transform="rotate(-45 387.59 859.20)">ILE_84</text>
<line x1="398.11" y1="850.10" x2="398.11" y2="852.70" stroke="#a0a0a0" stroke-width="0.8"/>
<text x="400.51" y="859.20" font-family="Liberation Sans" font-size="5.6" fill="#333" text-anchor="end" font-weight="normal" transform="rotate(-45 400.51 859.20)">TRP_96</text>
<line x1="411.03" y1="850.10" x2="411.03" y2="852.70" stroke="#a0a0a0" stroke-width="0.8"/>
<text x="413.43" y="859.20" font-family="Liberation Sans" font-size="5.6" fill="#333" text-anchor="end" font-weight="normal" transform="rotate(-45 413.43 859.20)">PHE_101</text>
<line x1="423.95" y1="850.10" x2="423.95" y2="852.70" stroke="#a0a0a0" stroke-width="0.8"/>
<text x="426.35" y="859.20" font-family="Liberation Sans" font-size="5.6" fill="#333" text-anchor="end" font-weight="normal" transform="rotate(-45 426.35 859.20)">LEU_107</text>
<line x1="436.87" y1="850.10" x2="436.87" y2="852.70" stroke="#a0a0a0" stroke-width="0.8"/>
<text x="439.27" y="859.20" font-family="Liberation Sans" font-size="5.6" fill="#333" text-anchor="end" font-weight="normal" transform="rotate(-45 439.27 859.20)">TRP_108</text>
<line x1="449.79" y1="850.10" x2="449.79" y2="852.70" stroke="#a0a0a0" stroke-width="0.8"/>
<text x="452.19" y="859.20" font-family="Liberation Sans" font-size="5.6" fill="#333" text-anchor="end" font-weight="normal" transform="rotate(-45 452.19 859.20)">ALA_111</text>
<line x1="462.71" y1="850.10" x2="462.71" y2="852.70" stroke="#a0a0a0" stroke-width="0.8"/>
<text x="465.11" y="859.20" font-family="Liberation Sans" font-size="5.6" fill="#333" text-anchor="end" font-weight="normal" transform="rotate(-45 465.11 859.20)">LEU_116</text>
<line x1="475.63" y1="850.10" x2="475.63" y2="852.70" stroke="#a0a0a0" stroke-width="0.8"/>
<text x="478.03" y="859.20" font-family="Liberation Sans" font-size="5.6" fill="#333" text-anchor="end" font-weight="normal" transform="rotate(-45 478.03 859.20)">THR_121</text>
<line x1="488.55" y1="850.10" x2="488.55" y2="852.70" stroke="#a0a0a0" stroke-width="0.8"/>
<text x="490.95" y="859.20" font-family="Liberation Sans" font-size="5.6" fill="#333" text-anchor="end" font-weight="normal" transform="rotate(-45 490.95 859.20)">PHE_133</text>
<line x1="501.47" y1="850.10" x2="501.47" y2="852.70" stroke="#a0a0a0" stroke-width="0.8"/>
<text x="503.87" y="859.20" font-family="Liberation Sans" font-size="5.6" fill="#333" text-anchor="end" font-weight="normal" transform="rotate(-45 503.87 859.20)">SER_135</text>
<text x="201.30" y="788.00" font-family="Liberation Sans" font-size="8.9" fill="#8a8a8a" text-anchor="middle" font-weight="normal" transform="rotate(-90 201.30 788.00)" textLength="96.80" lengthAdjust="spacingAndGlyphs">Interactions Fraction</text>
<text x="350.80" y="710.40" font-family="Liberation Sans" font-size="10.5" fill="#111" text-anchor="middle" font-weight="bold" textLength="128.00" lengthAdjust="spacingAndGlyphs">Protein-Ligand Contacts</text>
<rect x="269.60" y="888.60" width="194.60" height="11.70" rx="1.6" fill="#b8b8b8"/>
<rect x="268.40" y="887.20" width="194.60" height="11.70" rx="1.6" fill="#fff" stroke="#d4d4d4" stroke-width="0.7"/>
<rect x="269.80" y="889.90" width="7.00" height="5.50" fill="#7fc97f"/>
<text x="279.00" y="895.40" font-family="Liberation Sans" font-size="8.1" fill="#222" text-anchor="start" font-weight="normal" textLength="30.00" lengthAdjust="spacingAndGlyphs">H-bonds</text>
<rect x="312.50" y="889.90" width="7.00" height="5.50" fill="#beaed4"/>
<text x="321.50" y="895.40" font-family="Liberation Sans" font-size="8.1" fill="#222" text-anchor="start" font-weight="normal" textLength="46.60" lengthAdjust="spacingAndGlyphs">Hydrophobic</text>
<rect x="371.30" y="889.90" width="7.00" height="5.50" fill="#f0027f"/>
<text x="380.40" y="895.40" font-family="Liberation Sans" font-size="8.1" fill="#222" text-anchor="start" font-weight="normal" textLength="16.50" lengthAdjust="spacingAndGlyphs">Ionic</text>
<rect x="400.70" y="889.90" width="7.00" height="5.50" fill="#386cb0"/>
<text x="409.60" y="895.40" font-family="Liberation Sans" font-size="8.1" fill="#222" text-anchor="start" font-weight="normal" textLength="51.80" lengthAdjust="spacingAndGlyphs">Water bridges</text>
<text x="171.20" y="721.40" font-family="Liberation Serif" font-size="15" fill="#000" text-anchor="start" font-weight="bold" textLength="18.70" lengthAdjust="spacingAndGlyphs">(F)</text>
<text x="649.50" y="193.00" font-family="Liberation Sans" font-size="7.6" fill="#d0d0d0" text-anchor="start" font-weight="normal">Activate W</text>
</svg>
</body></html>
